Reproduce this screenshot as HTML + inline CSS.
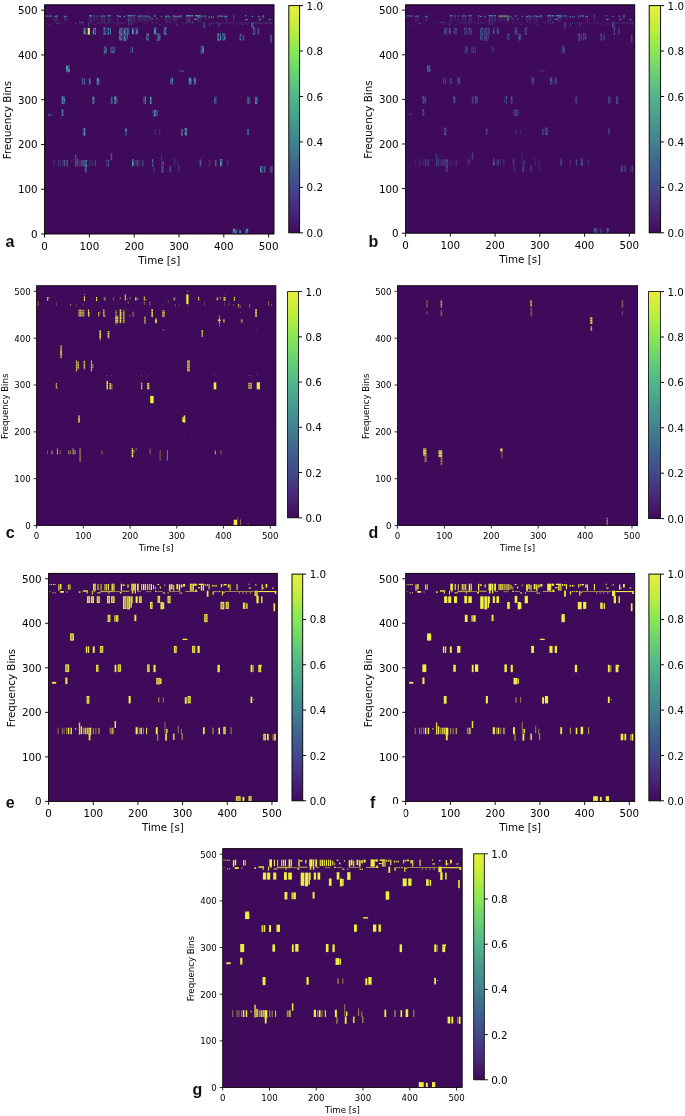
<!DOCTYPE html>
<html lang="en"><head><meta charset="utf-8"><title>Spectrogram panels</title>
<style>
html,body{margin:0;padding:0;background:#fff}
svg{display:block}
.p text{font-family:"DejaVu Sans","Liberation Sans",sans-serif;fill:#000}
.lab{font-family:"Liberation Sans","DejaVu Sans",sans-serif;font-weight:bold;font-size:16px;fill:#111}
</style></head><body>
<svg width="685" height="1116" viewBox="0 0 685 1116">
<defs>
<pattern id="sta" width="4.4" height="6" patternUnits="userSpaceOnUse"><rect width="1.5" height="6" fill="#4170a4"/><rect y="0.4" width="1.5" height="3" fill="#4cb4a8"/><rect x="2.2" width="1.4" height="6" fill="#3f5c98" opacity=".85"/><rect x="2.2" y="3" width="1.4" height="2.6" fill="#48a4a2"/></pattern>
<pattern id="stb" width="4.4" height="6" patternUnits="userSpaceOnUse"><rect width="1.4" height="6" fill="#43559a"/><rect y="0.6" width="1.4" height="2.4" fill="#4a86a4"/><rect x="2.2" width="1.3" height="6" fill="#434e90" opacity=".8"/><rect x="2.2" y="3.4" width="1.3" height="2.2" fill="#487a9c"/></pattern>
<pattern id="stc" width="8" height="2.6" patternUnits="userSpaceOnUse"><rect width="8" height="2.25" fill="#ecf03e"/></pattern>
<linearGradient id="vir" x1="0" y1="1" x2="0" y2="0"><stop offset="0%" stop-color="#400a5a"/><stop offset="10%" stop-color="#48287a"/><stop offset="20%" stop-color="#42488a"/><stop offset="30%" stop-color="#3e648e"/><stop offset="40%" stop-color="#42828e"/><stop offset="50%" stop-color="#469c8e"/><stop offset="60%" stop-color="#52b68a"/><stop offset="70%" stop-color="#68d074"/><stop offset="80%" stop-color="#88e854"/><stop offset="90%" stop-color="#beee3c"/><stop offset="100%" stop-color="#e8ee3c"/></linearGradient></defs>
<rect width="685" height="1116" fill="#fff"/>
<g class="p" font-size="10.3">
<rect x="44.6" y="4.8" width="229.4" height="229.2" fill="#400a5b"/>
<g fill="url(#sta)">
<rect x="45.4" y="15.5" width="1" height="1.2" opacity="0.80" fill="#52bca8"/>
<rect x="45.4" y="15.5" width="0.9" height="1.1" opacity="0.31"/>
<rect x="47.3" y="15.5" width="1" height="1.2" opacity="0.80" fill="#52bca8"/>
<rect x="47.3" y="15.5" width="0.9" height="1.1" opacity="0.31"/>
<rect x="49.1" y="15.5" width="1" height="1.2" opacity="0.80" fill="#52bca8"/>
<rect x="49.1" y="15.5" width="0.9" height="1.1" opacity="0.31"/>
<rect x="50.5" y="15.5" width="1.1" height="1.2" opacity="0.80" fill="#52bca8"/>
<rect x="50.5" y="15.5" width="1.1" height="1.1" opacity="0.31"/>
<rect x="54.3" y="15.8" width="1.2" height="1.2" opacity="0.80" fill="#52bca8"/>
<rect x="54.3" y="15.8" width="1.2" height="6.3" opacity="0.28" fill="#4690a6"/>
<rect x="56.1" y="15.5" width="1.4" height="1.2" opacity="0.80" fill="#52bca8"/>
<rect x="56.1" y="15.5" width="1.4" height="5.3" opacity="0.28" fill="#4690a6"/>
<rect x="64" y="15.8" width="1" height="1.2" opacity="0.80" fill="#52bca8"/>
<rect x="64" y="15.8" width="1" height="5.3" opacity="0.28" fill="#4690a6"/>
<rect x="65.6" y="15.8" width="1.1" height="1.2" opacity="0.80" fill="#52bca8"/>
<rect x="65.6" y="15.8" width="1.1" height="5.3" opacity="0.28" fill="#4690a6"/>
<rect x="89.3" y="15.1" width="2.6" height="1.2" opacity="0.80" fill="#52bca8"/>
<rect x="89.3" y="15.1" width="2.6" height="7" opacity="0.45"/>
<rect x="93.6" y="15.5" width="1.1" height="1.2" opacity="0.80" fill="#52bca8"/>
<rect x="93.6" y="15.5" width="1.1" height="6.2" opacity="0.28" fill="#4690a6"/>
<rect x="96.8" y="15.5" width="1" height="1.2" opacity="0.80" fill="#52bca8"/>
<rect x="96.8" y="15.5" width="1" height="6.2" opacity="0.28" fill="#4690a6"/>
<rect x="100.7" y="15.5" width="1.1" height="1.2" opacity="0.80" fill="#52bca8"/>
<rect x="100.7" y="15.5" width="1.1" height="6.2" opacity="0.28" fill="#4690a6"/>
<rect x="102.4" y="15.5" width="1.1" height="1.2" opacity="0.80" fill="#52bca8"/>
<rect x="102.4" y="15.5" width="1.1" height="6.2" opacity="0.28" fill="#4690a6"/>
<rect x="104.2" y="15.5" width="1.1" height="1.2" opacity="0.80" fill="#52bca8"/>
<rect x="104.2" y="15.5" width="1.1" height="6.2" opacity="0.28" fill="#4690a6"/>
<rect x="107.7" y="15.1" width="1.4" height="1.2" opacity="0.80" fill="#52bca8"/>
<rect x="107.7" y="15.1" width="1.4" height="7" opacity="0.28" fill="#4690a6"/>
<rect x="109.6" y="15.1" width="1.2" height="1.2" opacity="0.80" fill="#52bca8"/>
<rect x="109.6" y="15.1" width="1.2" height="7" opacity="0.28" fill="#4690a6"/>
<rect x="117" y="15.1" width="1.2" height="1.2" opacity="0.80" fill="#52bca8"/>
<rect x="117" y="15.1" width="1.2" height="7" opacity="0.28" fill="#4690a6"/>
<rect x="118.7" y="15.8" width="2.3" height="1.2" opacity="0.80" fill="#52bca8"/>
<rect x="118.7" y="15.8" width="2.3" height="1.4" opacity="0.31"/>
<rect x="123.7" y="15.8" width="1.2" height="1.2" opacity="0.80" fill="#52bca8"/>
<rect x="123.7" y="15.8" width="1.2" height="3.2" opacity="0.28" fill="#4690a6"/>
<rect x="127.5" y="15.1" width="2.6" height="1.2" opacity="0.80" fill="#52bca8"/>
<rect x="127.5" y="15.1" width="2.6" height="7" opacity="0.45"/>
<rect x="130.5" y="15.1" width="1.8" height="1.2" opacity="0.80" fill="#52bca8"/>
<rect x="130.5" y="15.1" width="1.8" height="7" opacity="0.28" fill="#4690a6"/>
<rect x="133.3" y="15.1" width="1.8" height="1.2" opacity="0.80" fill="#52bca8"/>
<rect x="133.3" y="15.1" width="1.8" height="7" opacity="0.28" fill="#4690a6"/>
<rect x="137.5" y="15.5" width="1.1" height="1.2" opacity="0.80" fill="#52bca8"/>
<rect x="137.5" y="15.5" width="1.1" height="6.2" opacity="0.28" fill="#4690a6"/>
<rect x="139.3" y="15.5" width="1.4" height="1.2" opacity="0.80" fill="#52bca8"/>
<rect x="139.3" y="15.5" width="1.4" height="6.2" opacity="0.28" fill="#4690a6"/>
<rect x="141.4" y="15.5" width="1.1" height="1.2" opacity="0.80" fill="#52bca8"/>
<rect x="141.4" y="15.5" width="1.1" height="6.2" opacity="0.28" fill="#4690a6"/>
<rect x="143.5" y="15.5" width="1.1" height="1.2" opacity="0.80" fill="#52bca8"/>
<rect x="143.5" y="15.5" width="1.1" height="6.2" opacity="0.28" fill="#4690a6"/>
<rect x="145.6" y="15.5" width="1.1" height="1.2" opacity="0.80" fill="#52bca8"/>
<rect x="145.6" y="15.5" width="1.1" height="6.2" opacity="0.28" fill="#4690a6"/>
<rect x="147.3" y="15.5" width="1.1" height="1.2" opacity="0.80" fill="#52bca8"/>
<rect x="147.3" y="15.5" width="1.1" height="6.2" opacity="0.28" fill="#4690a6"/>
<rect x="149.4" y="16.4" width="1.1" height="1.2" opacity="0.80" fill="#52bca8"/>
<rect x="149.4" y="16.4" width="1.1" height="4.4" opacity="0.28" fill="#4690a6"/>
<rect x="151.6" y="18.1" width="1" height="1.2" opacity="0.80" fill="#52bca8"/>
<rect x="151.6" y="18.1" width="1" height="2.6" opacity="0.28" fill="#4690a6"/>
<rect x="153.8" y="15.5" width="1.8" height="1.2" opacity="0.80" fill="#52bca8"/>
<rect x="153.8" y="15.5" width="1.8" height="1.1" opacity="0.31"/>
<rect x="156.1" y="18.1" width="1.2" height="1.2" opacity="0.80" fill="#52bca8"/>
<rect x="156.1" y="18.1" width="1.2" height="1.8" opacity="0.31"/>
<rect x="45.4" y="22.9" width="0.9" height="0.7" opacity="0.52"/>
<rect x="48.5" y="23.9" width="1.2" height="0.9" opacity="0.52"/>
<rect x="50.8" y="23.9" width="1.1" height="0.9" opacity="0.52"/>
<rect x="56.1" y="22.5" width="3.9" height="1.8" opacity="0.52"/>
<rect x="62.6" y="22.9" width="0.9" height="1.1" opacity="0.52"/>
<rect x="74.9" y="22.9" width="1.8" height="1.4" opacity="0.52"/>
<rect x="78.9" y="21.8" width="5.3" height="1.4" opacity="0.52"/>
<rect x="82.8" y="23.2" width="1.1" height="1.9" opacity="0.52"/>
<rect x="88" y="22.2" width="1" height="3.9" opacity="0.46" fill="#4690a6"/>
<rect x="89.8" y="22.9" width="1.8" height="0.7" opacity="0.52"/>
<rect x="93.3" y="23.9" width="3.5" height="0.9" opacity="0.52"/>
<rect x="96.5" y="22.2" width="13.5" height="1.4" opacity="0.37"/>
<rect x="104.7" y="23.6" width="0.9" height="1.6" opacity="0.52"/>
<rect x="110" y="22.5" width="6.1" height="0.7" opacity="0.37"/>
<rect x="116.1" y="23.2" width="1.8" height="1.8" opacity="0.52"/>
<rect x="117.9" y="22.2" width="7.9" height="1.1" opacity="0.37"/>
<rect x="128" y="22.2" width="1.4" height="2.8" opacity="0.46" fill="#4690a6"/>
<rect x="131" y="22.2" width="1.2" height="2.8" opacity="0.46" fill="#4690a6"/>
<rect x="133.7" y="22.5" width="3.5" height="0.7" opacity="0.37"/>
<rect x="142.4" y="22.9" width="5.3" height="0.7" opacity="0.37"/>
<rect x="151.2" y="22.2" width="1.8" height="1.1" opacity="0.52"/>
<rect x="153.8" y="22.5" width="5.3" height="0.7" opacity="0.37"/>
<rect x="83.1" y="27.8" width="3.2" height="6.7" opacity="1.00"/>
<rect x="87.1" y="27.8" width="3" height="6.7" opacity="1.00"/>
<rect x="92.9" y="27.8" width="3" height="6.7" opacity="1.00"/>
<rect x="103.3" y="27.4" width="2.8" height="7.4" opacity="1.00"/>
<rect x="107.3" y="27.8" width="3.5" height="6.7" opacity="1.00"/>
<rect x="119.3" y="27.8" width="3.5" height="12.7" opacity="1.00"/>
<rect x="123.5" y="27.8" width="2.8" height="13.2" opacity="1.00"/>
<rect x="126.6" y="27.8" width="1.4" height="11.4" opacity="0.62" fill="#4690a6"/>
<rect x="128" y="27.8" width="1" height="7" opacity="0.62" fill="#4690a6"/>
<rect x="131.9" y="27.8" width="2.1" height="6.7" opacity="1.00"/>
<rect x="135.4" y="27.8" width="2.6" height="6.7" opacity="1.00"/>
<rect x="153.8" y="27.4" width="2.6" height="7" opacity="1.00"/>
<rect x="146.3" y="33.4" width="2.6" height="7" opacity="1.00"/>
<rect x="156.8" y="33.4" width="2.3" height="7.6" opacity="1.00"/>
<rect x="103.8" y="46.5" width="2.8" height="7.2" opacity="1.00"/>
<rect x="110.5" y="46.8" width="1.2" height="6.5" opacity="0.62" fill="#4690a6"/>
<rect x="112.2" y="46.8" width="2.5" height="6.5" opacity="1.00"/>
<rect x="130.7" y="46.5" width="1.9" height="6.3" opacity="1.00"/>
<rect x="66.1" y="65.1" width="3.9" height="6.7" opacity="1.00"/>
<rect x="160.9" y="15.8" width="1" height="1.2" opacity="0.80" fill="#52bca8"/>
<rect x="160.9" y="15.8" width="0.7" height="1.8" opacity="0.31"/>
<rect x="165.2" y="15.8" width="1.8" height="1.2" opacity="0.80" fill="#52bca8"/>
<rect x="165.2" y="15.8" width="1.8" height="6.3" opacity="0.28" fill="#4690a6"/>
<rect x="167.5" y="15.5" width="1.4" height="1.2" opacity="0.80" fill="#52bca8"/>
<rect x="167.5" y="15.5" width="1.4" height="5.3" opacity="0.28" fill="#4690a6"/>
<rect x="169.6" y="16.4" width="1.1" height="1.2" opacity="0.80" fill="#52bca8"/>
<rect x="169.6" y="16.4" width="1.1" height="5.8" opacity="0.28" fill="#4690a6"/>
<rect x="172.8" y="15.5" width="1.8" height="1.2" opacity="0.80" fill="#52bca8"/>
<rect x="172.8" y="15.5" width="1.8" height="5.3" opacity="0.28" fill="#4690a6"/>
<rect x="175.2" y="15.8" width="1.4" height="1.2" opacity="0.80" fill="#52bca8"/>
<rect x="175.2" y="15.8" width="1.4" height="6.3" opacity="0.28" fill="#4690a6"/>
<rect x="177.4" y="15.8" width="1.4" height="1.2" opacity="0.80" fill="#52bca8"/>
<rect x="177.4" y="15.8" width="1.4" height="3.2" opacity="0.28" fill="#4690a6"/>
<rect x="179.5" y="15.5" width="2.1" height="1.2" opacity="0.80" fill="#52bca8"/>
<rect x="179.5" y="15.5" width="2.1" height="2.6" opacity="0.45"/>
<rect x="186.3" y="15.1" width="4" height="1.2" opacity="0.80" fill="#52bca8"/>
<rect x="186.3" y="15.1" width="4" height="7" opacity="0.45"/>
<rect x="190.7" y="15.1" width="2.6" height="1.2" opacity="0.80" fill="#52bca8"/>
<rect x="190.7" y="15.1" width="2.6" height="2.1" opacity="0.31"/>
<rect x="194.2" y="18.6" width="2.6" height="1.2" opacity="0.80" fill="#52bca8"/>
<rect x="194.2" y="18.6" width="2.6" height="1.1" opacity="0.31"/>
<rect x="195.1" y="15.1" width="5.3" height="1.2" opacity="0.80" fill="#52bca8"/>
<rect x="195.1" y="15.1" width="5.3" height="1.4" opacity="0.31"/>
<rect x="197.4" y="16.5" width="1.4" height="1.2" opacity="0.80" fill="#52bca8"/>
<rect x="197.4" y="16.5" width="1.4" height="5.6" opacity="0.28" fill="#4690a6"/>
<rect x="199.5" y="16.5" width="1.1" height="1.2" opacity="0.80" fill="#52bca8"/>
<rect x="199.5" y="16.5" width="1.1" height="5.6" opacity="0.28" fill="#4690a6"/>
<rect x="201.2" y="15.5" width="1.1" height="1.2" opacity="0.80" fill="#52bca8"/>
<rect x="201.2" y="15.5" width="1.1" height="2.1" opacity="0.31"/>
<rect x="203.3" y="15.5" width="1.1" height="1.2" opacity="0.80" fill="#52bca8"/>
<rect x="203.3" y="15.5" width="1.1" height="2.1" opacity="0.31"/>
<rect x="205.1" y="15.5" width="1.1" height="1.2" opacity="0.80" fill="#52bca8"/>
<rect x="205.1" y="15.5" width="1.1" height="5.3" opacity="0.28" fill="#4690a6"/>
<rect x="208.6" y="16.4" width="1.4" height="1.2" opacity="0.80" fill="#52bca8"/>
<rect x="208.6" y="16.4" width="1.4" height="1.8" opacity="0.31"/>
<rect x="211" y="16.4" width="1.1" height="1.2" opacity="0.80" fill="#52bca8"/>
<rect x="211" y="16.4" width="1.1" height="1.8" opacity="0.31"/>
<rect x="212.8" y="16.4" width="1" height="1.2" opacity="0.80" fill="#52bca8"/>
<rect x="212.8" y="16.4" width="0.7" height="1.8" opacity="0.31"/>
<rect x="217.4" y="15.5" width="1.1" height="1.2" opacity="0.80" fill="#52bca8"/>
<rect x="217.4" y="15.5" width="1.1" height="3.5" opacity="0.28" fill="#4690a6"/>
<rect x="219.1" y="15.5" width="1" height="1.2" opacity="0.80" fill="#52bca8"/>
<rect x="219.1" y="15.5" width="0.7" height="2.1" opacity="0.31"/>
<rect x="220.5" y="15.5" width="2.6" height="1.2" opacity="0.80" fill="#52bca8"/>
<rect x="220.5" y="15.5" width="2.6" height="1.4" opacity="0.31"/>
<rect x="224.4" y="15.8" width="1.4" height="1.2" opacity="0.80" fill="#52bca8"/>
<rect x="224.4" y="15.8" width="1.4" height="3.2" opacity="0.28" fill="#4690a6"/>
<rect x="226.1" y="15.8" width="1.1" height="1.2" opacity="0.80" fill="#52bca8"/>
<rect x="226.1" y="15.8" width="1.1" height="6.3" opacity="0.28" fill="#4690a6"/>
<rect x="233.2" y="15.5" width="1.1" height="1.2" opacity="0.80" fill="#52bca8"/>
<rect x="233.2" y="15.5" width="1.1" height="6.2" opacity="0.28" fill="#4690a6"/>
<rect x="245.1" y="15.1" width="1.1" height="1.2" opacity="0.80" fill="#52bca8"/>
<rect x="245.1" y="15.1" width="1.1" height="1.1" opacity="0.31"/>
<rect x="245.4" y="19" width="2.3" height="1.2" opacity="0.80" fill="#52bca8"/>
<rect x="245.4" y="19" width="2.3" height="1.1" opacity="0.31"/>
<rect x="251.8" y="15.8" width="1.4" height="1.2" opacity="0.80" fill="#52bca8"/>
<rect x="251.8" y="15.8" width="1.4" height="1.1" opacity="0.31"/>
<rect x="258.3" y="15.8" width="1.2" height="1.2" opacity="0.80" fill="#52bca8"/>
<rect x="258.3" y="15.8" width="1.2" height="5.3" opacity="0.28" fill="#4690a6"/>
<rect x="259.5" y="19" width="1.4" height="1.2" opacity="0.80" fill="#52bca8"/>
<rect x="259.5" y="19" width="1.4" height="1.1" opacity="0.31"/>
<rect x="262.3" y="15.5" width="1.8" height="1.2" opacity="0.80" fill="#52bca8"/>
<rect x="262.3" y="15.5" width="1.8" height="3.5" opacity="0.28" fill="#4690a6"/>
<rect x="268.8" y="19" width="1.8" height="1.2" opacity="0.80" fill="#52bca8"/>
<rect x="268.8" y="19" width="1.8" height="1.1" opacity="0.31"/>
<rect x="159.1" y="23.9" width="2.1" height="1.1" opacity="0.52"/>
<rect x="164" y="23.9" width="1.1" height="1.1" opacity="0.52"/>
<rect x="165.2" y="22.5" width="11.4" height="0.7" opacity="0.37"/>
<rect x="175.8" y="23.9" width="1.1" height="1.4" opacity="0.52"/>
<rect x="177.7" y="23.9" width="1.1" height="1.4" opacity="0.52"/>
<rect x="181.9" y="22.5" width="12.3" height="0.9" opacity="0.37"/>
<rect x="191.6" y="21.1" width="1.8" height="2.1" opacity="0.52"/>
<rect x="203.3" y="22.2" width="1.8" height="6" opacity="0.46" fill="#4690a6"/>
<rect x="209.1" y="22.9" width="1.2" height="3.2" opacity="0.46" fill="#4690a6"/>
<rect x="210.9" y="22.5" width="1.2" height="1.1" opacity="0.52"/>
<rect x="213.1" y="22.5" width="1.1" height="1.1" opacity="0.52"/>
<rect x="215.3" y="22.5" width="1.8" height="1.1" opacity="0.52"/>
<rect x="218.4" y="22.5" width="1.1" height="4.6" opacity="0.46" fill="#4690a6"/>
<rect x="219.6" y="23.2" width="1.8" height="1.1" opacity="0.52"/>
<rect x="221.4" y="22.5" width="29" height="0.9" opacity="0.31"/>
<rect x="235.4" y="23.9" width="0.9" height="1.1" opacity="0.52"/>
<rect x="238.9" y="23.9" width="0.9" height="1.1" opacity="0.52"/>
<rect x="242.5" y="23.9" width="0.9" height="1.1" opacity="0.52"/>
<rect x="246.5" y="23.9" width="1.1" height="1.1" opacity="0.52"/>
<rect x="251.2" y="22.2" width="3.2" height="5.3" opacity="0.75"/>
<rect x="254.7" y="22.5" width="18.4" height="1.1" opacity="0.52"/>
<rect x="271.4" y="23.6" width="1.8" height="1.8" opacity="0.52"/>
<rect x="163.8" y="27.4" width="3.2" height="7.4" opacity="1.00"/>
<rect x="253" y="27.4" width="2.3" height="7.4" opacity="1.00"/>
<rect x="257.7" y="27.8" width="1.4" height="6.7" opacity="0.62" fill="#4690a6"/>
<rect x="159.1" y="34" width="1.4" height="6.5" opacity="0.62" fill="#4690a6"/>
<rect x="217" y="33.4" width="3.9" height="7.4" opacity="1.00"/>
<rect x="222.3" y="33.4" width="3.2" height="7" opacity="1.00"/>
<rect x="239.5" y="34.1" width="2.5" height="6.3" opacity="1.00"/>
<rect x="242.8" y="34.8" width="1.4" height="5.6" opacity="0.62" fill="#4690a6"/>
<rect x="270.2" y="34.8" width="1.6" height="7.9" opacity="0.62" fill="#4690a6"/>
<rect x="200.7" y="45.8" width="3.3" height="8.1" opacity="1.00"/>
<rect x="179.3" y="70.6" width="4.4" height="1.2" opacity="0.70"/>
<rect x="66.1" y="66.7" width="3.9" height="5.6" opacity="1.00"/>
<rect x="81.9" y="78.2" width="1.2" height="6.5" opacity="0.62" fill="#4690a6"/>
<rect x="83.8" y="78.2" width="1.4" height="6.5" opacity="0.62" fill="#4690a6"/>
<rect x="88.9" y="78.2" width="1.9" height="6.5" opacity="1.00"/>
<rect x="96.1" y="77.8" width="3.3" height="6.9" opacity="1.00"/>
<rect x="61.4" y="96.3" width="3.9" height="7.7" opacity="1.00"/>
<rect x="92.2" y="96.7" width="2.5" height="7" opacity="1.00"/>
<rect x="110.8" y="96.7" width="1.8" height="7.4" opacity="0.62" fill="#4690a6"/>
<rect x="114" y="96.3" width="3.2" height="7.4" opacity="1.00"/>
<rect x="143.5" y="96.3" width="2.5" height="7.7" opacity="1.00"/>
<rect x="149.8" y="96.7" width="2.1" height="7.4" opacity="1.00"/>
<rect x="61.4" y="109.5" width="2.1" height="6.5" opacity="1.00"/>
<rect x="48" y="113.9" width="4.2" height="1.8" opacity="0.70"/>
<rect x="152.6" y="109.9" width="3.5" height="6.5" opacity="1.00"/>
<rect x="156.5" y="110.4" width="1.4" height="5.6" opacity="0.62" fill="#4690a6"/>
<rect x="82.8" y="128" width="2.8" height="7.7" opacity="1.00"/>
<rect x="124.9" y="128" width="2.1" height="7.4" opacity="1.00"/>
<rect x="154.4" y="129.2" width="1.4" height="5.3" opacity="0.31" fill="#4690a6"/>
<rect x="178.8" y="70.6" width="5.3" height="1.1" opacity="0.39"/>
<rect x="170.3" y="77.6" width="2.8" height="7" opacity="1.00"/>
<rect x="188.6" y="77.6" width="3.2" height="7" opacity="1.00"/>
<rect x="193.8" y="77.6" width="2.3" height="7" opacity="1.00"/>
<rect x="214" y="96.7" width="2.3" height="7.4" opacity="1.00"/>
<rect x="247.2" y="96.7" width="1.8" height="7.4" opacity="0.62" fill="#4690a6"/>
<rect x="248.9" y="97" width="1.8" height="6.7" opacity="0.31" fill="#4690a6"/>
<rect x="254.9" y="96.7" width="3.5" height="2.1" opacity="0.70"/>
<rect x="254.9" y="98.8" width="2.8" height="5.3" opacity="1.00"/>
<rect x="159.1" y="129.2" width="1.1" height="5.3" opacity="0.31" fill="#4690a6"/>
<rect x="181.2" y="129.2" width="1.9" height="6.5" opacity="1.00"/>
<rect x="184" y="128" width="3.2" height="7.4" opacity="1.00"/>
<rect x="247.2" y="128.7" width="1.8" height="6.3" opacity="0.62" fill="#4690a6"/>
<rect x="250" y="131.2" width="1.1" height="0.7" opacity="0.70"/>
<rect x="53.6" y="159.9" width="1.1" height="6.5" opacity="0.28" fill="#4690a6"/>
<rect x="57.8" y="159.9" width="1.1" height="6.5" opacity="0.28" fill="#4690a6"/>
<rect x="59.6" y="159.9" width="1.1" height="6.5" opacity="0.28" fill="#4690a6"/>
<rect x="62.1" y="159.9" width="1.1" height="6.5" opacity="0.28" fill="#4690a6"/>
<rect x="63.8" y="159.9" width="1.4" height="6.5" opacity="0.62" fill="#4690a6"/>
<rect x="66.6" y="159.9" width="1.4" height="6.5" opacity="0.62" fill="#4690a6"/>
<rect x="71.4" y="160.2" width="0.9" height="1.8" opacity="0.70"/>
<rect x="74.9" y="154.6" width="1.4" height="12.3" opacity="0.53" fill="#4690a6"/>
<rect x="76.8" y="158.5" width="1.4" height="7.9" opacity="0.62" fill="#4690a6"/>
<rect x="78.9" y="159.9" width="1.4" height="6.5" opacity="0.31" fill="#4690a6"/>
<rect x="80.7" y="159.9" width="1.8" height="6.5" opacity="0.50" fill="#4690a6"/>
<rect x="82.8" y="159.9" width="1.4" height="6.5" opacity="0.50" fill="#4690a6"/>
<rect x="84.5" y="159.9" width="2.8" height="7.4" opacity="1.00"/>
<rect x="84.9" y="167.3" width="1.8" height="5.3" opacity="0.62" fill="#4690a6"/>
<rect x="88.9" y="160.2" width="1.2" height="6.2" opacity="0.31" fill="#4690a6"/>
<rect x="91.5" y="160.2" width="1.1" height="6.2" opacity="0.31" fill="#4690a6"/>
<rect x="94.7" y="160.2" width="1.1" height="6.2" opacity="0.50" fill="#4690a6"/>
<rect x="105.9" y="159.9" width="1.4" height="6.5" opacity="0.31" fill="#4690a6"/>
<rect x="107.7" y="159.9" width="2.1" height="6.5" opacity="0.70"/>
<rect x="110.8" y="153.2" width="1.4" height="7" opacity="0.62" fill="#4690a6"/>
<rect x="131.9" y="159.4" width="2.1" height="7" opacity="1.00"/>
<rect x="135.1" y="159.9" width="1.4" height="6.5" opacity="0.31" fill="#4690a6"/>
<rect x="136.8" y="159.9" width="1.4" height="6.5" opacity="0.62" fill="#4690a6"/>
<rect x="139.3" y="159.9" width="1.1" height="6.5" opacity="0.31" fill="#4690a6"/>
<rect x="142.4" y="159.9" width="1.1" height="6.5" opacity="0.62" fill="#4690a6"/>
<rect x="152.1" y="159.4" width="1.9" height="7" opacity="1.00"/>
<rect x="153.3" y="166.4" width="1.4" height="6.5" opacity="0.31" fill="#4690a6"/>
<rect x="160.9" y="154.1" width="1.1" height="11.4" opacity="0.28" fill="#4690a6"/>
<rect x="162.6" y="161.1" width="1.4" height="4.4" opacity="0.62" fill="#4690a6"/>
<rect x="161.6" y="165.9" width="1.8" height="7" opacity="0.62" fill="#4690a6"/>
<rect x="169.3" y="165.9" width="1.8" height="6.3" opacity="0.50" fill="#4690a6"/>
<rect x="174.2" y="158.1" width="1.1" height="7.4" opacity="0.31" fill="#4690a6"/>
<rect x="177.4" y="161.1" width="1.1" height="5.3" opacity="0.31" fill="#4690a6"/>
<rect x="178.1" y="165.9" width="1.4" height="6.3" opacity="0.31" fill="#4690a6"/>
<rect x="199.5" y="159.4" width="1.8" height="7" opacity="0.62" fill="#4690a6"/>
<rect x="208.9" y="159.9" width="1.2" height="6.5" opacity="0.37" fill="#4690a6"/>
<rect x="214.9" y="159.9" width="1.6" height="6.5" opacity="0.62" fill="#4690a6"/>
<rect x="219.8" y="159" width="2.5" height="7.4" opacity="1.00"/>
<rect x="227.2" y="159.4" width="1.1" height="7" opacity="0.37" fill="#4690a6"/>
<rect x="260" y="166.1" width="2.6" height="6.5" opacity="1.00"/>
<rect x="263.7" y="166.1" width="1.8" height="6.5" opacity="0.62" fill="#4690a6"/>
<rect x="269.3" y="166.4" width="1.1" height="6.2" opacity="0.37" fill="#4690a6"/>
<rect x="270.9" y="166.1" width="1.6" height="6.9" opacity="0.62" fill="#4690a6"/>
<rect x="232.5" y="228.8" width="4.7" height="5.5" opacity="1.00"/>
<rect x="239.1" y="229.5" width="1.9" height="4.8" opacity="1.00"/>
<rect x="245.1" y="228.8" width="3.2" height="5.5" opacity="1.00"/>
</g>
<rect x="87.8" y="28" width="2" height="6.6" fill="#e4ee3e"/>
<rect x="44.6" y="4.8" width="229.4" height="229.2" fill="none" stroke="#000" stroke-width="0.95"/>
<path d="M44.6 234v3.5M44.6 234h-3.5" stroke="#000" stroke-width="0.95"/>
<text x="44.6" y="249.6" text-anchor="middle">0</text>
<text x="37.6" y="238" text-anchor="end">0</text>
<path d="M89.4 234v3.5M44.6 189.23h-3.5" stroke="#000" stroke-width="0.95"/>
<text x="89.4" y="249.6" text-anchor="middle">100</text>
<text x="37.6" y="193.23" text-anchor="end">100</text>
<path d="M134.21 234v3.5M44.6 144.47h-3.5" stroke="#000" stroke-width="0.95"/>
<text x="134.21" y="249.6" text-anchor="middle">200</text>
<text x="37.6" y="148.47" text-anchor="end">200</text>
<path d="M179.01 234v3.5M44.6 99.7h-3.5" stroke="#000" stroke-width="0.95"/>
<text x="179.01" y="249.6" text-anchor="middle">300</text>
<text x="37.6" y="103.7" text-anchor="end">300</text>
<path d="M223.82 234v3.5M44.6 54.94h-3.5" stroke="#000" stroke-width="0.95"/>
<text x="223.82" y="249.6" text-anchor="middle">400</text>
<text x="37.6" y="58.94" text-anchor="end">400</text>
<path d="M268.62 234v3.5M44.6 10.17h-3.5" stroke="#000" stroke-width="0.95"/>
<text x="268.62" y="249.6" text-anchor="middle">500</text>
<text x="37.6" y="14.17" text-anchor="end">500</text>
<text x="159.3" y="264" text-anchor="middle">Time [s]</text>
<text transform="translate(11.2 120) rotate(-90)" text-anchor="middle">Frequency Bins</text>
<rect x="288.8" y="5.6" width="10.8" height="227.2" fill="url(#vir)" stroke="#000" stroke-width="0.95"/>
<path d="M299.6 232.8h3.5" stroke="#000" stroke-width="0.95"/>
<text x="306.6" y="236.85" font-size="10.3">0.0</text>
<path d="M299.6 187.36h3.5" stroke="#000" stroke-width="0.95"/>
<text x="306.6" y="191.41" font-size="10.3">0.2</text>
<path d="M299.6 141.92h3.5" stroke="#000" stroke-width="0.95"/>
<text x="306.6" y="145.97" font-size="10.3">0.4</text>
<path d="M299.6 96.48h3.5" stroke="#000" stroke-width="0.95"/>
<text x="306.6" y="100.53" font-size="10.3">0.6</text>
<path d="M299.6 51.04h3.5" stroke="#000" stroke-width="0.95"/>
<text x="306.6" y="55.09" font-size="10.3">0.8</text>
<path d="M299.6 5.6h3.5" stroke="#000" stroke-width="0.95"/>
<text x="306.6" y="9.65" font-size="10.3">1.0</text>
</g>
<text class="lab" x="5.4" y="247.3">a</text>
<g class="p" font-size="10.3">
<rect x="405.6" y="4.8" width="229.1" height="228.4" fill="#400a5b"/>
<g fill="url(#stb)">
<rect x="406.4" y="15.4" width="1" height="1.2" opacity="0.80" fill="#4eaea6"/>
<rect x="406.4" y="15.4" width="0.9" height="1.1" opacity="0.34"/>
<rect x="408.3" y="15.4" width="1" height="1.2" opacity="0.80" fill="#4eaea6"/>
<rect x="408.3" y="15.4" width="0.9" height="1.1" opacity="0.34"/>
<rect x="410.1" y="15.4" width="1" height="1.2" opacity="0.80" fill="#4eaea6"/>
<rect x="410.1" y="15.4" width="0.9" height="1.1" opacity="0.34"/>
<rect x="411.5" y="15.4" width="1.1" height="1.2" opacity="0.80" fill="#4eaea6"/>
<rect x="411.5" y="15.4" width="1.1" height="1.1" opacity="0.34"/>
<rect x="415.3" y="15.8" width="1.2" height="1.2" opacity="0.80" fill="#4eaea6"/>
<rect x="415.3" y="15.8" width="1.2" height="6.3" opacity="0.30" fill="#48709e"/>
<rect x="417.1" y="15.4" width="1.4" height="1.2" opacity="0.80" fill="#4eaea6"/>
<rect x="417.1" y="15.4" width="1.4" height="5.3" opacity="0.30" fill="#48709e"/>
<rect x="425" y="15.8" width="1" height="1.2" opacity="0.80" fill="#4eaea6"/>
<rect x="425" y="15.8" width="1" height="5.3" opacity="0.30" fill="#48709e"/>
<rect x="426.5" y="15.8" width="1.1" height="1.2" opacity="0.80" fill="#4eaea6"/>
<rect x="426.5" y="15.8" width="1.1" height="5.3" opacity="0.30" fill="#48709e"/>
<rect x="450.2" y="15.1" width="2.6" height="1.2" opacity="0.80" fill="#4eaea6"/>
<rect x="450.2" y="15.1" width="2.6" height="7" opacity="0.48"/>
<rect x="454.6" y="15.4" width="1.1" height="1.2" opacity="0.80" fill="#4eaea6"/>
<rect x="454.6" y="15.4" width="1.1" height="6.1" opacity="0.30" fill="#48709e"/>
<rect x="457.7" y="15.4" width="1" height="1.2" opacity="0.80" fill="#4eaea6"/>
<rect x="457.7" y="15.4" width="1" height="6.1" opacity="0.30" fill="#48709e"/>
<rect x="461.6" y="15.4" width="1.1" height="1.2" opacity="0.80" fill="#4eaea6"/>
<rect x="461.6" y="15.4" width="1.1" height="6.1" opacity="0.30" fill="#48709e"/>
<rect x="463.3" y="15.4" width="1.1" height="1.2" opacity="0.80" fill="#4eaea6"/>
<rect x="463.3" y="15.4" width="1.1" height="6.1" opacity="0.30" fill="#48709e"/>
<rect x="465.1" y="15.4" width="1.1" height="1.2" opacity="0.80" fill="#4eaea6"/>
<rect x="465.1" y="15.4" width="1.1" height="6.1" opacity="0.30" fill="#48709e"/>
<rect x="468.6" y="15.1" width="1.4" height="1.2" opacity="0.80" fill="#4eaea6"/>
<rect x="468.6" y="15.1" width="1.4" height="7" opacity="0.30" fill="#48709e"/>
<rect x="470.5" y="15.1" width="1.2" height="1.2" opacity="0.80" fill="#4eaea6"/>
<rect x="470.5" y="15.1" width="1.2" height="7" opacity="0.30" fill="#48709e"/>
<rect x="477.9" y="15.1" width="1.2" height="1.2" opacity="0.80" fill="#4eaea6"/>
<rect x="477.9" y="15.1" width="1.2" height="7" opacity="0.30" fill="#48709e"/>
<rect x="479.6" y="15.8" width="2.3" height="1.2" opacity="0.80" fill="#4eaea6"/>
<rect x="479.6" y="15.8" width="2.3" height="1.4" opacity="0.34"/>
<rect x="484.5" y="15.8" width="1.2" height="1.2" opacity="0.80" fill="#4eaea6"/>
<rect x="484.5" y="15.8" width="1.2" height="3.2" opacity="0.30" fill="#48709e"/>
<rect x="488.4" y="15.1" width="2.6" height="1.2" opacity="0.80" fill="#4eaea6"/>
<rect x="488.4" y="15.1" width="2.6" height="7" opacity="0.48"/>
<rect x="491.4" y="15.1" width="1.8" height="1.2" opacity="0.80" fill="#4eaea6"/>
<rect x="491.4" y="15.1" width="1.8" height="7" opacity="0.30" fill="#48709e"/>
<rect x="494.2" y="15.1" width="1.8" height="1.2" opacity="0.80" fill="#4eaea6"/>
<rect x="494.2" y="15.1" width="1.8" height="7" opacity="0.30" fill="#48709e"/>
<rect x="498.4" y="15.4" width="1.1" height="1.2" opacity="0.80" fill="#4eaea6"/>
<rect x="498.4" y="15.4" width="1.1" height="6.1" opacity="0.30" fill="#48709e"/>
<rect x="500.1" y="15.4" width="1.4" height="1.2" opacity="0.80" fill="#4eaea6"/>
<rect x="500.1" y="15.4" width="1.4" height="6.1" opacity="0.30" fill="#48709e"/>
<rect x="502.2" y="15.4" width="1.1" height="1.2" opacity="0.80" fill="#4eaea6"/>
<rect x="502.2" y="15.4" width="1.1" height="6.1" opacity="0.30" fill="#48709e"/>
<rect x="504.4" y="15.4" width="1.1" height="1.2" opacity="0.80" fill="#4eaea6"/>
<rect x="504.4" y="15.4" width="1.1" height="6.1" opacity="0.30" fill="#48709e"/>
<rect x="506.5" y="15.4" width="1.1" height="1.2" opacity="0.80" fill="#4eaea6"/>
<rect x="506.5" y="15.4" width="1.1" height="6.1" opacity="0.30" fill="#48709e"/>
<rect x="508.2" y="15.4" width="1.1" height="1.2" opacity="0.80" fill="#4eaea6"/>
<rect x="508.2" y="15.4" width="1.1" height="6.1" opacity="0.30" fill="#48709e"/>
<rect x="510.3" y="16.3" width="1.1" height="1.2" opacity="0.80" fill="#4eaea6"/>
<rect x="510.3" y="16.3" width="1.1" height="4.4" opacity="0.30" fill="#48709e"/>
<rect x="512.4" y="18.1" width="1" height="1.2" opacity="0.80" fill="#4eaea6"/>
<rect x="512.4" y="18.1" width="1" height="2.6" opacity="0.30" fill="#48709e"/>
<rect x="514.7" y="15.4" width="1.8" height="1.2" opacity="0.80" fill="#4eaea6"/>
<rect x="514.7" y="15.4" width="1.8" height="1.1" opacity="0.34"/>
<rect x="517" y="18.1" width="1.2" height="1.2" opacity="0.80" fill="#4eaea6"/>
<rect x="517" y="18.1" width="1.2" height="1.8" opacity="0.34"/>
<rect x="406.4" y="22.8" width="0.9" height="0.7" opacity="0.57"/>
<rect x="409.5" y="23.9" width="1.2" height="0.9" opacity="0.57"/>
<rect x="411.8" y="23.9" width="1.1" height="0.9" opacity="0.57"/>
<rect x="417.1" y="22.5" width="3.9" height="1.8" opacity="0.57"/>
<rect x="423.6" y="22.8" width="0.9" height="1.1" opacity="0.57"/>
<rect x="435.8" y="22.8" width="1.8" height="1.4" opacity="0.57"/>
<rect x="439.9" y="21.8" width="5.3" height="1.4" opacity="0.57"/>
<rect x="443.7" y="23.2" width="1.1" height="1.9" opacity="0.57"/>
<rect x="449" y="22.1" width="1" height="3.9" opacity="0.50" fill="#48709e"/>
<rect x="450.7" y="22.8" width="1.8" height="0.7" opacity="0.57"/>
<rect x="454.2" y="23.9" width="3.5" height="0.9" opacity="0.57"/>
<rect x="457.4" y="22.1" width="13.5" height="1.4" opacity="0.40"/>
<rect x="465.6" y="23.5" width="0.9" height="1.6" opacity="0.57"/>
<rect x="470.9" y="22.5" width="6.1" height="0.7" opacity="0.40"/>
<rect x="477" y="23.2" width="1.8" height="1.8" opacity="0.57"/>
<rect x="478.8" y="22.1" width="7.9" height="1.1" opacity="0.40"/>
<rect x="488.9" y="22.1" width="1.4" height="2.8" opacity="0.50" fill="#48709e"/>
<rect x="491.9" y="22.1" width="1.2" height="2.8" opacity="0.50" fill="#48709e"/>
<rect x="494.5" y="22.5" width="3.5" height="0.7" opacity="0.40"/>
<rect x="503.3" y="22.8" width="5.3" height="0.7" opacity="0.40"/>
<rect x="512.1" y="22.1" width="1.8" height="1.1" opacity="0.57"/>
<rect x="514.7" y="22.5" width="5.3" height="0.7" opacity="0.40"/>
<rect x="444.1" y="27.7" width="3.2" height="6.7" opacity="0.85"/>
<rect x="448.1" y="27.7" width="3" height="6.7" opacity="0.85"/>
<rect x="453.9" y="27.7" width="3" height="6.7" opacity="0.85"/>
<rect x="464.2" y="27.4" width="2.8" height="7.4" opacity="0.85"/>
<rect x="468.2" y="27.7" width="3.5" height="6.7" opacity="0.85"/>
<rect x="480.2" y="27.7" width="3.5" height="12.6" opacity="0.85"/>
<rect x="484.4" y="27.7" width="2.8" height="13.2" opacity="0.85"/>
<rect x="487.5" y="27.7" width="1.4" height="11.4" opacity="0.53" fill="#48709e"/>
<rect x="488.9" y="27.7" width="1" height="7" opacity="0.53" fill="#48709e"/>
<rect x="492.8" y="27.7" width="2.1" height="6.7" opacity="0.85"/>
<rect x="496.3" y="27.7" width="2.6" height="6.7" opacity="0.85"/>
<rect x="514.7" y="27.4" width="2.6" height="7" opacity="0.85"/>
<rect x="507.2" y="33.3" width="2.6" height="7" opacity="0.85"/>
<rect x="517.7" y="33.3" width="2.3" height="7.5" opacity="0.85"/>
<rect x="464.7" y="46.3" width="2.8" height="7.2" opacity="0.85"/>
<rect x="471.4" y="46.7" width="1.2" height="6.5" opacity="0.53" fill="#48709e"/>
<rect x="473.2" y="46.7" width="2.5" height="6.5" opacity="0.85"/>
<rect x="491.6" y="46.3" width="1.9" height="6.3" opacity="0.85"/>
<rect x="427.1" y="64.9" width="3.9" height="6.7" opacity="0.85"/>
<rect x="521.7" y="15.8" width="1" height="1.2" opacity="0.80" fill="#4eaea6"/>
<rect x="521.7" y="15.8" width="0.7" height="1.8" opacity="0.34"/>
<rect x="526.1" y="15.8" width="1.8" height="1.2" opacity="0.80" fill="#4eaea6"/>
<rect x="526.1" y="15.8" width="1.8" height="6.3" opacity="0.30" fill="#48709e"/>
<rect x="528.4" y="15.4" width="1.4" height="1.2" opacity="0.80" fill="#4eaea6"/>
<rect x="528.4" y="15.4" width="1.4" height="5.3" opacity="0.30" fill="#48709e"/>
<rect x="530.5" y="16.3" width="1.1" height="1.2" opacity="0.80" fill="#4eaea6"/>
<rect x="530.5" y="16.3" width="1.1" height="5.8" opacity="0.30" fill="#48709e"/>
<rect x="533.6" y="15.4" width="1.8" height="1.2" opacity="0.80" fill="#4eaea6"/>
<rect x="533.6" y="15.4" width="1.8" height="5.3" opacity="0.30" fill="#48709e"/>
<rect x="536.1" y="15.8" width="1.4" height="1.2" opacity="0.80" fill="#4eaea6"/>
<rect x="536.1" y="15.8" width="1.4" height="6.3" opacity="0.30" fill="#48709e"/>
<rect x="538.2" y="15.8" width="1.4" height="1.2" opacity="0.80" fill="#4eaea6"/>
<rect x="538.2" y="15.8" width="1.4" height="3.2" opacity="0.30" fill="#48709e"/>
<rect x="540.3" y="15.4" width="2.1" height="1.2" opacity="0.80" fill="#4eaea6"/>
<rect x="540.3" y="15.4" width="2.1" height="2.6" opacity="0.48"/>
<rect x="547.1" y="15.1" width="4" height="1.2" opacity="0.80" fill="#4eaea6"/>
<rect x="547.1" y="15.1" width="4" height="7" opacity="0.48"/>
<rect x="551.5" y="15.1" width="2.6" height="1.2" opacity="0.80" fill="#4eaea6"/>
<rect x="551.5" y="15.1" width="2.6" height="2.1" opacity="0.34"/>
<rect x="555" y="18.6" width="2.6" height="1.2" opacity="0.80" fill="#4eaea6"/>
<rect x="555" y="18.6" width="2.6" height="1.1" opacity="0.34"/>
<rect x="555.9" y="15.1" width="5.3" height="1.2" opacity="0.80" fill="#4eaea6"/>
<rect x="555.9" y="15.1" width="5.3" height="1.4" opacity="0.34"/>
<rect x="558.2" y="16.5" width="1.4" height="1.2" opacity="0.80" fill="#4eaea6"/>
<rect x="558.2" y="16.5" width="1.4" height="5.6" opacity="0.30" fill="#48709e"/>
<rect x="560.3" y="16.5" width="1.1" height="1.2" opacity="0.80" fill="#4eaea6"/>
<rect x="560.3" y="16.5" width="1.1" height="5.6" opacity="0.30" fill="#48709e"/>
<rect x="562" y="15.4" width="1.1" height="1.2" opacity="0.80" fill="#4eaea6"/>
<rect x="562" y="15.4" width="1.1" height="2.1" opacity="0.34"/>
<rect x="564.1" y="15.4" width="1.1" height="1.2" opacity="0.80" fill="#4eaea6"/>
<rect x="564.1" y="15.4" width="1.1" height="2.1" opacity="0.34"/>
<rect x="565.9" y="15.4" width="1.1" height="1.2" opacity="0.80" fill="#4eaea6"/>
<rect x="565.9" y="15.4" width="1.1" height="5.3" opacity="0.30" fill="#48709e"/>
<rect x="569.4" y="16.3" width="1.4" height="1.2" opacity="0.80" fill="#4eaea6"/>
<rect x="569.4" y="16.3" width="1.4" height="1.8" opacity="0.34"/>
<rect x="571.8" y="16.3" width="1.1" height="1.2" opacity="0.80" fill="#4eaea6"/>
<rect x="571.8" y="16.3" width="1.1" height="1.8" opacity="0.34"/>
<rect x="573.6" y="16.3" width="1" height="1.2" opacity="0.80" fill="#4eaea6"/>
<rect x="573.6" y="16.3" width="0.7" height="1.8" opacity="0.34"/>
<rect x="578.1" y="15.4" width="1.1" height="1.2" opacity="0.80" fill="#4eaea6"/>
<rect x="578.1" y="15.4" width="1.1" height="3.5" opacity="0.30" fill="#48709e"/>
<rect x="579.9" y="15.4" width="1" height="1.2" opacity="0.80" fill="#4eaea6"/>
<rect x="579.9" y="15.4" width="0.7" height="2.1" opacity="0.34"/>
<rect x="581.3" y="15.4" width="2.6" height="1.2" opacity="0.80" fill="#4eaea6"/>
<rect x="581.3" y="15.4" width="2.6" height="1.4" opacity="0.34"/>
<rect x="585.1" y="15.8" width="1.4" height="1.2" opacity="0.80" fill="#4eaea6"/>
<rect x="585.1" y="15.8" width="1.4" height="3.2" opacity="0.30" fill="#48709e"/>
<rect x="586.9" y="15.8" width="1.1" height="1.2" opacity="0.80" fill="#4eaea6"/>
<rect x="586.9" y="15.8" width="1.1" height="6.3" opacity="0.30" fill="#48709e"/>
<rect x="593.9" y="15.4" width="1.1" height="1.2" opacity="0.80" fill="#4eaea6"/>
<rect x="593.9" y="15.4" width="1.1" height="6.1" opacity="0.30" fill="#48709e"/>
<rect x="605.8" y="15.1" width="1.1" height="1.2" opacity="0.80" fill="#4eaea6"/>
<rect x="605.8" y="15.1" width="1.1" height="1.1" opacity="0.34"/>
<rect x="606.2" y="18.9" width="2.3" height="1.2" opacity="0.80" fill="#4eaea6"/>
<rect x="606.2" y="18.9" width="2.3" height="1.1" opacity="0.34"/>
<rect x="612.5" y="15.8" width="1.4" height="1.2" opacity="0.80" fill="#4eaea6"/>
<rect x="612.5" y="15.8" width="1.4" height="1.1" opacity="0.34"/>
<rect x="619" y="15.8" width="1.2" height="1.2" opacity="0.80" fill="#4eaea6"/>
<rect x="619" y="15.8" width="1.2" height="5.3" opacity="0.30" fill="#48709e"/>
<rect x="620.2" y="18.9" width="1.4" height="1.2" opacity="0.80" fill="#4eaea6"/>
<rect x="620.2" y="18.9" width="1.4" height="1.1" opacity="0.34"/>
<rect x="623" y="15.4" width="1.8" height="1.2" opacity="0.80" fill="#4eaea6"/>
<rect x="623" y="15.4" width="1.8" height="3.5" opacity="0.30" fill="#48709e"/>
<rect x="629.5" y="18.9" width="1.8" height="1.2" opacity="0.80" fill="#4eaea6"/>
<rect x="629.5" y="18.9" width="1.8" height="1.1" opacity="0.34"/>
<rect x="519.9" y="23.9" width="2.1" height="1.1" opacity="0.57"/>
<rect x="524.9" y="23.9" width="1.1" height="1.1" opacity="0.57"/>
<rect x="526.1" y="22.5" width="11.4" height="0.7" opacity="0.40"/>
<rect x="536.6" y="23.9" width="1.1" height="1.4" opacity="0.57"/>
<rect x="538.5" y="23.9" width="1.1" height="1.4" opacity="0.57"/>
<rect x="542.7" y="22.5" width="12.3" height="0.9" opacity="0.40"/>
<rect x="552.4" y="21" width="1.8" height="2.1" opacity="0.57"/>
<rect x="564.1" y="22.1" width="1.8" height="6" opacity="0.50" fill="#48709e"/>
<rect x="569.9" y="22.8" width="1.2" height="3.2" opacity="0.50" fill="#48709e"/>
<rect x="571.7" y="22.5" width="1.2" height="1.1" opacity="0.57"/>
<rect x="573.9" y="22.5" width="1.1" height="1.1" opacity="0.57"/>
<rect x="576" y="22.5" width="1.8" height="1.1" opacity="0.57"/>
<rect x="579.2" y="22.5" width="1.1" height="4.6" opacity="0.50" fill="#48709e"/>
<rect x="580.4" y="23.2" width="1.8" height="1.1" opacity="0.57"/>
<rect x="582.2" y="22.5" width="28.9" height="0.9" opacity="0.34"/>
<rect x="596.2" y="23.9" width="0.9" height="1.1" opacity="0.57"/>
<rect x="599.7" y="23.9" width="0.9" height="1.1" opacity="0.57"/>
<rect x="603.2" y="23.9" width="0.9" height="1.1" opacity="0.57"/>
<rect x="607.2" y="23.9" width="1.1" height="1.1" opacity="0.57"/>
<rect x="612" y="22.1" width="3.2" height="5.3" opacity="0.81"/>
<rect x="615.5" y="22.5" width="18.4" height="1.1" opacity="0.57"/>
<rect x="632.1" y="23.5" width="1.8" height="1.8" opacity="0.57"/>
<rect x="524.7" y="27.4" width="3.2" height="7.4" opacity="0.85"/>
<rect x="613.7" y="27.4" width="2.3" height="7.4" opacity="0.85"/>
<rect x="618.4" y="27.7" width="1.4" height="6.7" opacity="0.53" fill="#48709e"/>
<rect x="519.9" y="33.9" width="1.4" height="6.5" opacity="0.53" fill="#48709e"/>
<rect x="577.8" y="33.3" width="3.9" height="7.4" opacity="0.85"/>
<rect x="583" y="33.3" width="3.2" height="7" opacity="0.85"/>
<rect x="600.2" y="34" width="2.5" height="6.3" opacity="0.85"/>
<rect x="603.5" y="34.7" width="1.4" height="5.6" opacity="0.53" fill="#48709e"/>
<rect x="630.9" y="34.7" width="1.6" height="7.9" opacity="0.53" fill="#48709e"/>
<rect x="561.5" y="45.6" width="3.3" height="8.1" opacity="0.85"/>
<rect x="540.1" y="70.4" width="4.4" height="1.2" opacity="0.59"/>
<rect x="427.1" y="66.5" width="3.9" height="5.6" opacity="0.85"/>
<rect x="442.8" y="77.9" width="1.2" height="6.5" opacity="0.53" fill="#48709e"/>
<rect x="444.8" y="77.9" width="1.4" height="6.5" opacity="0.53" fill="#48709e"/>
<rect x="449.8" y="77.9" width="1.9" height="6.5" opacity="0.85"/>
<rect x="457" y="77.6" width="3.3" height="6.8" opacity="0.85"/>
<rect x="422.3" y="96" width="3.9" height="7.7" opacity="0.85"/>
<rect x="453.2" y="96.3" width="2.5" height="7" opacity="0.85"/>
<rect x="471.8" y="96.3" width="1.8" height="7.4" opacity="0.53" fill="#48709e"/>
<rect x="474.9" y="96" width="3.2" height="7.4" opacity="0.85"/>
<rect x="504.4" y="96" width="2.5" height="7.7" opacity="0.85"/>
<rect x="510.7" y="96.3" width="2.1" height="7.4" opacity="0.85"/>
<rect x="422.3" y="109.2" width="2.1" height="6.5" opacity="0.85"/>
<rect x="409" y="113.5" width="4.2" height="1.8" opacity="0.59"/>
<rect x="513.5" y="109.5" width="3.5" height="6.5" opacity="0.85"/>
<rect x="517.3" y="110" width="1.4" height="5.6" opacity="0.53" fill="#48709e"/>
<rect x="443.7" y="127.6" width="2.8" height="7.7" opacity="0.85"/>
<rect x="485.8" y="127.6" width="2.1" height="7.4" opacity="0.85"/>
<rect x="515.2" y="128.8" width="1.4" height="5.3" opacity="0.26" fill="#48709e"/>
<rect x="539.6" y="70.4" width="5.3" height="1.1" opacity="0.33"/>
<rect x="531.2" y="77.4" width="2.8" height="7" opacity="0.85"/>
<rect x="549.4" y="77.4" width="3.2" height="7" opacity="0.85"/>
<rect x="554.7" y="77.4" width="2.3" height="7" opacity="0.85"/>
<rect x="574.8" y="96.3" width="2.3" height="7.4" opacity="0.85"/>
<rect x="607.9" y="96.3" width="1.8" height="7.4" opacity="0.53" fill="#48709e"/>
<rect x="609.7" y="96.7" width="1.8" height="6.7" opacity="0.26" fill="#48709e"/>
<rect x="615.6" y="96.3" width="3.5" height="2.1" opacity="0.59"/>
<rect x="615.6" y="98.4" width="2.8" height="5.3" opacity="0.85"/>
<rect x="519.9" y="128.8" width="1.1" height="5.3" opacity="0.26" fill="#48709e"/>
<rect x="542" y="128.8" width="1.9" height="6.5" opacity="0.85"/>
<rect x="544.8" y="127.6" width="3.2" height="7.4" opacity="0.85"/>
<rect x="607.9" y="128.3" width="1.8" height="6.3" opacity="0.53" fill="#48709e"/>
<rect x="610.7" y="130.7" width="1.1" height="0.7" opacity="0.59"/>
<rect x="414.6" y="159.3" width="1.1" height="6.5" opacity="0.24" fill="#48709e"/>
<rect x="418.8" y="159.3" width="1.1" height="6.5" opacity="0.24" fill="#48709e"/>
<rect x="420.6" y="159.3" width="1.1" height="6.5" opacity="0.24" fill="#48709e"/>
<rect x="423" y="159.3" width="1.1" height="6.5" opacity="0.24" fill="#48709e"/>
<rect x="424.8" y="159.3" width="1.4" height="6.5" opacity="0.53" fill="#48709e"/>
<rect x="427.6" y="159.3" width="1.4" height="6.5" opacity="0.53" fill="#48709e"/>
<rect x="432.3" y="159.7" width="0.9" height="1.8" opacity="0.59"/>
<rect x="435.8" y="154.1" width="1.4" height="12.3" opacity="0.45" fill="#48709e"/>
<rect x="437.8" y="157.9" width="1.4" height="7.9" opacity="0.53" fill="#48709e"/>
<rect x="439.9" y="159.3" width="1.4" height="6.5" opacity="0.26" fill="#48709e"/>
<rect x="441.6" y="159.3" width="1.8" height="6.5" opacity="0.42" fill="#48709e"/>
<rect x="443.7" y="159.3" width="1.4" height="6.5" opacity="0.42" fill="#48709e"/>
<rect x="445.5" y="159.3" width="2.8" height="7.4" opacity="0.85"/>
<rect x="445.8" y="166.7" width="1.8" height="5.3" opacity="0.53" fill="#48709e"/>
<rect x="449.8" y="159.7" width="1.2" height="6.1" opacity="0.26" fill="#48709e"/>
<rect x="452.5" y="159.7" width="1.1" height="6.1" opacity="0.26" fill="#48709e"/>
<rect x="455.6" y="159.7" width="1.1" height="6.1" opacity="0.42" fill="#48709e"/>
<rect x="466.8" y="159.3" width="1.4" height="6.5" opacity="0.26" fill="#48709e"/>
<rect x="468.6" y="159.3" width="2.1" height="6.5" opacity="0.59"/>
<rect x="471.8" y="152.7" width="1.4" height="7" opacity="0.53" fill="#48709e"/>
<rect x="492.8" y="158.8" width="2.1" height="7" opacity="0.85"/>
<rect x="495.9" y="159.3" width="1.4" height="6.5" opacity="0.26" fill="#48709e"/>
<rect x="497.7" y="159.3" width="1.4" height="6.5" opacity="0.53" fill="#48709e"/>
<rect x="500.1" y="159.3" width="1.1" height="6.5" opacity="0.26" fill="#48709e"/>
<rect x="503.3" y="159.3" width="1.1" height="6.5" opacity="0.53" fill="#48709e"/>
<rect x="512.9" y="158.8" width="1.9" height="7" opacity="0.85"/>
<rect x="514.2" y="165.8" width="1.4" height="6.5" opacity="0.26" fill="#48709e"/>
<rect x="521.7" y="153.6" width="1.1" height="11.4" opacity="0.24" fill="#48709e"/>
<rect x="523.5" y="160.6" width="1.4" height="4.4" opacity="0.53" fill="#48709e"/>
<rect x="522.4" y="165.3" width="1.8" height="7" opacity="0.53" fill="#48709e"/>
<rect x="530.1" y="165.3" width="1.8" height="6.3" opacity="0.42" fill="#48709e"/>
<rect x="535" y="157.6" width="1.1" height="7.4" opacity="0.26" fill="#48709e"/>
<rect x="538.2" y="160.6" width="1.1" height="5.3" opacity="0.26" fill="#48709e"/>
<rect x="538.9" y="165.3" width="1.4" height="6.3" opacity="0.26" fill="#48709e"/>
<rect x="560.3" y="158.8" width="1.8" height="7" opacity="0.53" fill="#48709e"/>
<rect x="569.7" y="159.3" width="1.2" height="6.5" opacity="0.32" fill="#48709e"/>
<rect x="575.7" y="159.3" width="1.6" height="6.5" opacity="0.53" fill="#48709e"/>
<rect x="580.6" y="158.5" width="2.5" height="7.4" opacity="0.85"/>
<rect x="588" y="158.8" width="1.1" height="7" opacity="0.32" fill="#48709e"/>
<rect x="620.7" y="165.5" width="2.6" height="6.5" opacity="0.85"/>
<rect x="624.4" y="165.5" width="1.8" height="6.5" opacity="0.53" fill="#48709e"/>
<rect x="630" y="165.8" width="1.1" height="6.1" opacity="0.32" fill="#48709e"/>
<rect x="631.6" y="165.5" width="1.6" height="6.8" opacity="0.53" fill="#48709e"/>
<rect x="593.2" y="228" width="4.7" height="5.4" opacity="0.85"/>
<rect x="599.9" y="228.7" width="1.9" height="4.7" opacity="0.85"/>
<rect x="605.8" y="228" width="3.2" height="5.4" opacity="0.85"/>
</g>
<rect x="498.6" y="15.6" width="8.4" height="1.2" fill="#a8d854" opacity=".5"/>
<rect x="507.4" y="15.8" width="1.2" height="5.2" fill="#7cc870" opacity=".55"/>
<rect x="405.6" y="4.8" width="229.1" height="228.4" fill="none" stroke="#000" stroke-width="0.95"/>
<path d="M405.6 233.2v3.5M405.6 233.2h-3.5" stroke="#000" stroke-width="0.95"/>
<text x="405.6" y="248.8" text-anchor="middle">0</text>
<text x="398.6" y="237.2" text-anchor="end">0</text>
<path d="M450.35 233.2v3.5M405.6 188.59h-3.5" stroke="#000" stroke-width="0.95"/>
<text x="450.35" y="248.8" text-anchor="middle">100</text>
<text x="398.6" y="192.59" text-anchor="end">100</text>
<path d="M495.09 233.2v3.5M405.6 143.98h-3.5" stroke="#000" stroke-width="0.95"/>
<text x="495.09" y="248.8" text-anchor="middle">200</text>
<text x="398.6" y="147.98" text-anchor="end">200</text>
<path d="M539.84 233.2v3.5M405.6 99.37h-3.5" stroke="#000" stroke-width="0.95"/>
<text x="539.84" y="248.8" text-anchor="middle">300</text>
<text x="398.6" y="103.37" text-anchor="end">300</text>
<path d="M584.58 233.2v3.5M405.6 54.76h-3.5" stroke="#000" stroke-width="0.95"/>
<text x="584.58" y="248.8" text-anchor="middle">400</text>
<text x="398.6" y="58.76" text-anchor="end">400</text>
<path d="M629.33 233.2v3.5M405.6 10.15h-3.5" stroke="#000" stroke-width="0.95"/>
<text x="629.33" y="248.8" text-anchor="middle">500</text>
<text x="398.6" y="14.15" text-anchor="end">500</text>
<text x="520.15" y="263.2" text-anchor="middle">Time [s]</text>
<text transform="translate(372.2 119.6) rotate(-90)" text-anchor="middle">Frequency Bins</text>
<rect x="649.2" y="5.6" width="11.4" height="227.2" fill="url(#vir)" stroke="#000" stroke-width="0.95"/>
<path d="M660.6 232.8h3.5" stroke="#000" stroke-width="0.95"/>
<text x="667.6" y="236.85" font-size="10.3">0.0</text>
<path d="M660.6 187.36h3.5" stroke="#000" stroke-width="0.95"/>
<text x="667.6" y="191.41" font-size="10.3">0.2</text>
<path d="M660.6 141.92h3.5" stroke="#000" stroke-width="0.95"/>
<text x="667.6" y="145.97" font-size="10.3">0.4</text>
<path d="M660.6 96.48h3.5" stroke="#000" stroke-width="0.95"/>
<text x="667.6" y="100.53" font-size="10.3">0.6</text>
<path d="M660.6 51.04h3.5" stroke="#000" stroke-width="0.95"/>
<text x="667.6" y="55.09" font-size="10.3">0.8</text>
<path d="M660.6 5.6h3.5" stroke="#000" stroke-width="0.95"/>
<text x="667.6" y="9.65" font-size="10.3">1.0</text>
</g>
<text class="lab" x="368.6" y="247.3">b</text>
<g class="p" font-size="8.6">
<rect x="36.6" y="285.7" width="239.3" height="239.9" fill="#400a5b"/>
<g fill="url(#stc)">
<rect x="47.1" y="297" width="1.1" height="3.7"/>
<rect x="48.3" y="297.4" width="0.9" height="1.1"/>
<rect x="50.2" y="298.1" width="0.5" height="0.7" opacity="0.55"/>
<rect x="83.9" y="296.3" width="1.1" height="4.9"/>
<rect x="83.9" y="294.1" width="1.1" height="1.1" opacity="0.55"/>
<rect x="91.6" y="298.1" width="1.1" height="0.7" opacity="0.55"/>
<rect x="96" y="297" width="1.1" height="4.2"/>
<rect x="103.6" y="297.4" width="2.2" height="2.9" opacity="0.55"/>
<rect x="113.1" y="297.4" width="0.9" height="2.9" opacity="0.55"/>
<rect x="119.7" y="297.7" width="1.1" height="1.1"/>
<rect x="124.8" y="294.4" width="1.1" height="5.9"/>
<rect x="126.6" y="298.5" width="1.1" height="1.1" opacity="0.55"/>
<rect x="129.5" y="297.4" width="1.5" height="1.5" opacity="0.55"/>
<rect x="135" y="297.4" width="1.5" height="2.9"/>
<rect x="137.2" y="297.7" width="1.1" height="2.2" opacity="0.55"/>
<rect x="143.8" y="296.6" width="1.1" height="3.7"/>
<rect x="145.2" y="298.8" width="1.1" height="1.5" opacity="0.55"/>
<rect x="37.8" y="301.2" width="0.9" height="4.6" opacity="0.55"/>
<rect x="56.2" y="302.5" width="0.7" height="3.3" opacity="0.40"/>
<rect x="70.2" y="304.3" width="0.9" height="1.1"/>
<rect x="76.3" y="303.9" width="0.7" height="2.7" opacity="0.40"/>
<rect x="82.5" y="304.7" width="1.5" height="0.7" opacity="0.40"/>
<rect x="127.7" y="301.2" width="1.1" height="2.7" opacity="0.40"/>
<rect x="143.8" y="301.2" width="1.1" height="3.7" opacity="0.40"/>
<rect x="149.2" y="301.2" width="1.1" height="4.2" opacity="0.40"/>
<rect x="78.1" y="309.4" width="0.7" height="7.3" opacity="0.55"/>
<rect x="79.4" y="309.4" width="1.3" height="7.3"/>
<rect x="81.4" y="309.8" width="1.1" height="6.9"/>
<rect x="83.2" y="309.8" width="1.1" height="6.9" opacity="0.80"/>
<rect x="87.9" y="309.4" width="1.1" height="7.3"/>
<rect x="89.4" y="311.3" width="0.7" height="5.5" opacity="0.55"/>
<rect x="98.2" y="312.2" width="0.9" height="4.2"/>
<rect x="99.6" y="311.3" width="0.7" height="2.7" opacity="0.55"/>
<rect x="103.3" y="309.4" width="1.1" height="7.3"/>
<rect x="104.4" y="315.6" width="1.1" height="1.1"/>
<rect x="115.3" y="310.3" width="1.5" height="5.5" opacity="0.55"/>
<rect x="115.3" y="315.8" width="1.5" height="7.3"/>
<rect x="115.7" y="323.1" width="0.7" height="2.7" opacity="0.55"/>
<rect x="117.1" y="315.8" width="1.1" height="7.3"/>
<rect x="119.7" y="309.4" width="1.5" height="13.7"/>
<rect x="121.5" y="312.2" width="0.7" height="10.1" opacity="0.55"/>
<rect x="123.2" y="310.3" width="1.3" height="12.8" opacity="0.85"/>
<rect x="129.2" y="315.3" width="1.3" height="1.1" opacity="0.55"/>
<rect x="132.5" y="311.3" width="1.5" height="5.5" opacity="0.40"/>
<rect x="151.4" y="309.1" width="1.5" height="8"/>
<rect x="144.1" y="316.4" width="1.8" height="7.3" opacity="0.60"/>
<rect x="155.1" y="318.6" width="0.9" height="4.6"/>
<rect x="99.4" y="330.5" width="1.6" height="8.2"/>
<rect x="99.8" y="338.7" width="0.7" height="2.7" opacity="0.55"/>
<rect x="107.6" y="331" width="1.8" height="7.3" opacity="0.85"/>
<rect x="60.2" y="345.1" width="1.8" height="10.1" opacity="0.60"/>
<rect x="187" y="290.8" width="1.1" height="1.1" opacity="0.55"/>
<rect x="173.3" y="297.4" width="2" height="2.9" opacity="0.60"/>
<rect x="186.3" y="294.4" width="2.2" height="9.5" fill="#ecf03e"/>
<rect x="198" y="297" width="1.1" height="3.3"/>
<rect x="216.6" y="297.4" width="1.5" height="2.9" opacity="0.80"/>
<rect x="219.5" y="297.4" width="1.5" height="1.5" opacity="0.70"/>
<rect x="223.5" y="297" width="2.2" height="3.7" opacity="0.80"/>
<rect x="224.6" y="294.1" width="0.7" height="1.1" opacity="0.40"/>
<rect x="233.9" y="297" width="1.1" height="3.7"/>
<rect x="167.7" y="300.3" width="1.1" height="2.2" opacity="0.40"/>
<rect x="162.6" y="304.7" width="0.7" height="1.1" opacity="0.40"/>
<rect x="175" y="303.9" width="0.7" height="3.3" opacity="0.40"/>
<rect x="179" y="304.3" width="0.7" height="1.5" opacity="0.40"/>
<rect x="187.8" y="304.3" width="0.7" height="1.5" opacity="0.55"/>
<rect x="204.2" y="301.7" width="0.7" height="4" opacity="0.40"/>
<rect x="224.2" y="301.7" width="0.7" height="4" opacity="0.40"/>
<rect x="228.6" y="302.1" width="0.7" height="3.7" opacity="0.40"/>
<rect x="233" y="304.3" width="1.1" height="1.5" opacity="0.40"/>
<rect x="238.1" y="303.9" width="1.1" height="3.7" opacity="0.80"/>
<rect x="240.3" y="305.8" width="0.7" height="1.8" opacity="0.55"/>
<rect x="249.4" y="304.3" width="0.7" height="3.3" opacity="0.80"/>
<rect x="268" y="301" width="1.1" height="4.8" opacity="0.40"/>
<rect x="271" y="304.3" width="1.1" height="1.5" opacity="0.40"/>
<rect x="162.2" y="310.3" width="2.6" height="6.8" opacity="0.70"/>
<rect x="156" y="318.6" width="0.9" height="4.6"/>
<rect x="239.9" y="312" width="0.7" height="1.1" opacity="0.40"/>
<rect x="255.3" y="309.1" width="1.5" height="8"/>
<rect x="218.8" y="315.3" width="1.1" height="3.3" opacity="0.55"/>
<rect x="218.8" y="318.6" width="1.1" height="4.6"/>
<rect x="219" y="323.1" width="0.7" height="3.7" opacity="0.55"/>
<rect x="217.7" y="319.3" width="3.3" height="1.5" opacity="0.80"/>
<rect x="223.2" y="318.9" width="1.5" height="3.7" opacity="0.80"/>
<rect x="240.7" y="318.9" width="2.2" height="3.7" opacity="0.50"/>
<rect x="162.2" y="329.2" width="2.6" height="1.1" opacity="0.35"/>
<rect x="255.6" y="329.2" width="1.1" height="1.1" opacity="0.35"/>
<rect x="201.6" y="329.9" width="1.3" height="6.9" opacity="0.90"/>
<rect x="60.2" y="350.1" width="1.8" height="8.2" opacity="0.60"/>
<rect x="75.9" y="360.2" width="1.1" height="11.5" opacity="0.80"/>
<rect x="77.4" y="361.5" width="1.5" height="7.9" opacity="0.80"/>
<rect x="83.6" y="360.7" width="1.5" height="8.6" opacity="0.80"/>
<rect x="90.9" y="360.2" width="1.1" height="11.5" opacity="0.80"/>
<rect x="92.3" y="363.8" width="1.1" height="4.6" opacity="0.60"/>
<rect x="106.9" y="375.4" width="0.7" height="0.7" opacity="0.55"/>
<rect x="110.9" y="375.4" width="0.7" height="0.7" opacity="0.55"/>
<rect x="141.2" y="375.4" width="0.7" height="0.7" opacity="0.55"/>
<rect x="147.1" y="375.4" width="0.7" height="0.7" opacity="0.55"/>
<rect x="55.8" y="383" width="1.1" height="5.5" opacity="0.80"/>
<rect x="56.9" y="387.4" width="1.1" height="1.1" opacity="0.60"/>
<rect x="106.5" y="380.9" width="1.5" height="8.6"/>
<rect x="109.5" y="383" width="1.5" height="6.4" opacity="0.90"/>
<rect x="111.3" y="384" width="1.1" height="5.5" opacity="0.60"/>
<rect x="141" y="382.7" width="1.3" height="6.8" opacity="0.80"/>
<rect x="147.1" y="383" width="2.2" height="6.4" opacity="0.90"/>
<rect x="150.2" y="395.9" width="3.5" height="7.3" fill="#ecf03e"/>
<rect x="78.1" y="415.1" width="1.8" height="7.3" opacity="0.70"/>
<rect x="187" y="360.2" width="2.9" height="11.5" opacity="0.70"/>
<rect x="214" y="375.4" width="0.7" height="0.7" opacity="0.55"/>
<rect x="249.1" y="375.4" width="0.7" height="0.7" opacity="0.55"/>
<rect x="250.9" y="375.4" width="0.7" height="0.7" opacity="0.55"/>
<rect x="256.7" y="375.4" width="0.7" height="0.7" opacity="0.55"/>
<rect x="213.7" y="382.3" width="2.6" height="7.1" fill="#ecf03e"/>
<rect x="248.3" y="382.7" width="1.5" height="6.2" opacity="0.80"/>
<rect x="250.2" y="382.7" width="1.8" height="6.2" opacity="0.70"/>
<rect x="256.7" y="382.3" width="3.3" height="7.1" opacity="0.95" fill="#ecf03e"/>
<rect x="182.3" y="416.9" width="1.5" height="4.9" opacity="0.80"/>
<rect x="183.7" y="415.1" width="1.5" height="7.3"/>
<rect x="78.1" y="418.3" width="1.5" height="4" opacity="0.60"/>
<rect x="47.1" y="450.5" width="0.9" height="3.7" opacity="0.45"/>
<rect x="51.1" y="450.5" width="1.8" height="3.7" opacity="0.45"/>
<rect x="56.9" y="448.4" width="1.1" height="6" opacity="0.80"/>
<rect x="59.8" y="450.5" width="1.1" height="3.7" opacity="0.45"/>
<rect x="68.2" y="450.5" width="1.1" height="3.7" opacity="0.70"/>
<rect x="70.1" y="450.5" width="1.1" height="3.7" opacity="0.45"/>
<rect x="72.6" y="448.4" width="1.1" height="6" opacity="0.80"/>
<rect x="74.4" y="450.5" width="1.5" height="3.7" opacity="0.60"/>
<rect x="79.2" y="448.4" width="1.8" height="13.3" opacity="0.45"/>
<rect x="101.4" y="450.5" width="1.5" height="3.7" opacity="0.35"/>
<rect x="131.7" y="448.4" width="1.5" height="9.1"/>
<rect x="133.6" y="450.5" width="1.1" height="1.8" opacity="0.70"/>
<rect x="135.7" y="448.4" width="1.1" height="1.3" opacity="0.70"/>
<rect x="149.6" y="448.4" width="1.1" height="6" opacity="0.45"/>
<rect x="182.6" y="418.3" width="2.6" height="4" fill="#ecf03e"/>
<rect x="184.1" y="434.4" width="0.7" height="0.7" opacity="0.40"/>
<rect x="159.6" y="450.3" width="1.1" height="10.4" opacity="0.40"/>
<rect x="166.9" y="450.3" width="1.1" height="10.4" opacity="0.50"/>
<rect x="214.8" y="450.5" width="1.1" height="4" opacity="0.80"/>
<rect x="220.2" y="450.5" width="1.5" height="4" opacity="0.35"/>
<rect x="233.7" y="519.7" width="3.6" height="6" fill="#ecf03e"/>
<rect x="237" y="517.3" width="0.7" height="2.4" opacity="0.50"/>
<rect x="239.9" y="519.2" width="1.1" height="6.6" opacity="0.50"/>
<rect x="247.6" y="522.8" width="1.1" height="1.1" opacity="0.45"/>
</g>
<rect x="36.6" y="285.7" width="239.3" height="239.9" fill="none" stroke="#000" stroke-width="0.81"/>
<path d="M36.6 525.6v2.98M36.6 525.6h-2.98" stroke="#000" stroke-width="0.81"/>
<text x="36.6" y="538.86" text-anchor="middle">0</text>
<text x="30.65" y="529" text-anchor="end">0</text>
<path d="M83.34 525.6v2.98M36.6 478.74h-2.98" stroke="#000" stroke-width="0.81"/>
<text x="83.34" y="538.86" text-anchor="middle">100</text>
<text x="30.65" y="482.14" text-anchor="end">100</text>
<path d="M130.08 525.6v2.98M36.6 431.89h-2.98" stroke="#000" stroke-width="0.81"/>
<text x="130.08" y="538.86" text-anchor="middle">200</text>
<text x="30.65" y="435.29" text-anchor="end">200</text>
<path d="M176.81 525.6v2.98M36.6 385.03h-2.98" stroke="#000" stroke-width="0.81"/>
<text x="176.81" y="538.86" text-anchor="middle">300</text>
<text x="30.65" y="388.43" text-anchor="end">300</text>
<path d="M223.55 525.6v2.98M36.6 338.18h-2.98" stroke="#000" stroke-width="0.81"/>
<text x="223.55" y="538.86" text-anchor="middle">400</text>
<text x="30.65" y="341.58" text-anchor="end">400</text>
<path d="M270.29 525.6v2.98M36.6 291.32h-2.98" stroke="#000" stroke-width="0.81"/>
<text x="270.29" y="538.86" text-anchor="middle">500</text>
<text x="30.65" y="294.72" text-anchor="end">500</text>
<text x="156.25" y="551.1" text-anchor="middle">Time [s]</text>
<text transform="translate(8.21 406.25) rotate(-90)" text-anchor="middle">Frequency Bins</text>
<rect x="287.6" y="291.6" width="10.9" height="226.2" fill="url(#vir)" stroke="#000" stroke-width="0.81"/>
<path d="M298.5 517.8h3.5" stroke="#000" stroke-width="0.95"/>
<text x="305.5" y="521.85" font-size="10.3">0.0</text>
<path d="M298.5 472.56h3.5" stroke="#000" stroke-width="0.95"/>
<text x="305.5" y="476.61" font-size="10.3">0.2</text>
<path d="M298.5 427.32h3.5" stroke="#000" stroke-width="0.95"/>
<text x="305.5" y="431.37" font-size="10.3">0.4</text>
<path d="M298.5 382.08h3.5" stroke="#000" stroke-width="0.95"/>
<text x="305.5" y="386.13" font-size="10.3">0.6</text>
<path d="M298.5 336.84h3.5" stroke="#000" stroke-width="0.95"/>
<text x="305.5" y="340.89" font-size="10.3">0.8</text>
<path d="M298.5 291.6h3.5" stroke="#000" stroke-width="0.95"/>
<text x="305.5" y="295.65" font-size="10.3">1.0</text>
</g>
<text class="lab" x="5.8" y="537.9">c</text>
<g class="p" font-size="8.6">
<rect x="397.5" y="285.7" width="240.1" height="239.9" fill="#400a5b"/>
<g fill="url(#stc)">
<rect x="426.4" y="300.3" width="1.1" height="7.3" opacity="0.50"/>
<rect x="426.4" y="310.9" width="1.1" height="4" opacity="0.35"/>
<rect x="440.6" y="300.3" width="1.5" height="7.3" opacity="0.70"/>
<rect x="440.6" y="310.3" width="1.5" height="5.5" opacity="0.45"/>
<rect x="530.2" y="300.3" width="1.8" height="6.4" opacity="0.70"/>
<rect x="530.2" y="307.6" width="2.2" height="8.2" opacity="0.30"/>
<rect x="621.7" y="300.3" width="1.5" height="7.3" opacity="0.42"/>
<rect x="621.7" y="310.9" width="1.5" height="4.4" opacity="0.28"/>
<rect x="590.2" y="317.1" width="2.2" height="6.9" opacity="0.85"/>
<rect x="590.6" y="326.2" width="1.5" height="4.8" opacity="0.75"/>
<rect x="423.1" y="448.4" width="3.3" height="7.3" opacity="0.90"/>
<rect x="424.5" y="455.8" width="2.2" height="6.4" opacity="0.50"/>
<rect x="438.5" y="450.3" width="3.7" height="6.8" opacity="0.90"/>
<rect x="440.6" y="457" width="1.8" height="8.4" opacity="0.50"/>
<rect x="500.3" y="448.4" width="2.2" height="3.1" opacity="0.95" fill="#ecf03e"/>
<rect x="501.4" y="451.6" width="1.1" height="6.6" opacity="0.45"/>
<rect x="606.5" y="517.7" width="1.5" height="8" opacity="0.50"/>
</g>
<rect x="397.5" y="285.7" width="240.1" height="239.9" fill="none" stroke="#000" stroke-width="0.81"/>
<path d="M397.5 525.6v2.98M397.5 525.6h-2.98" stroke="#000" stroke-width="0.81"/>
<text x="397.5" y="538.86" text-anchor="middle">0</text>
<text x="391.55" y="529" text-anchor="end">0</text>
<path d="M444.39 525.6v2.98M397.5 478.74h-2.98" stroke="#000" stroke-width="0.81"/>
<text x="444.39" y="538.86" text-anchor="middle">100</text>
<text x="391.55" y="482.14" text-anchor="end">100</text>
<path d="M491.29 525.6v2.98M397.5 431.89h-2.98" stroke="#000" stroke-width="0.81"/>
<text x="491.29" y="538.86" text-anchor="middle">200</text>
<text x="391.55" y="435.29" text-anchor="end">200</text>
<path d="M538.18 525.6v2.98M397.5 385.03h-2.98" stroke="#000" stroke-width="0.81"/>
<text x="538.18" y="538.86" text-anchor="middle">300</text>
<text x="391.55" y="388.43" text-anchor="end">300</text>
<path d="M585.08 525.6v2.98M397.5 338.18h-2.98" stroke="#000" stroke-width="0.81"/>
<text x="585.08" y="538.86" text-anchor="middle">400</text>
<text x="391.55" y="341.58" text-anchor="end">400</text>
<path d="M631.97 525.6v2.98M397.5 291.32h-2.98" stroke="#000" stroke-width="0.81"/>
<text x="631.97" y="538.86" text-anchor="middle">500</text>
<text x="391.55" y="294.72" text-anchor="end">500</text>
<text x="517.55" y="551.1" text-anchor="middle">Time [s]</text>
<text transform="translate(369.11 406.25) rotate(-90)" text-anchor="middle">Frequency Bins</text>
<rect x="648.6" y="291.6" width="11.9" height="227" fill="url(#vir)" stroke="#000" stroke-width="0.81"/>
<path d="M660.5 518.6h3.5" stroke="#000" stroke-width="0.95"/>
<text x="667.5" y="522.65" font-size="10.3">0.0</text>
<path d="M660.5 473.2h3.5" stroke="#000" stroke-width="0.95"/>
<text x="667.5" y="477.25" font-size="10.3">0.2</text>
<path d="M660.5 427.8h3.5" stroke="#000" stroke-width="0.95"/>
<text x="667.5" y="431.85" font-size="10.3">0.4</text>
<path d="M660.5 382.4h3.5" stroke="#000" stroke-width="0.95"/>
<text x="667.5" y="386.45" font-size="10.3">0.6</text>
<path d="M660.5 337h3.5" stroke="#000" stroke-width="0.95"/>
<text x="667.5" y="341.05" font-size="10.3">0.8</text>
<path d="M660.5 291.6h3.5" stroke="#000" stroke-width="0.95"/>
<text x="667.5" y="295.65" font-size="10.3">1.0</text>
</g>
<text class="lab" x="368.6" y="537.9">d</text>
<g class="p" font-size="10.3">
<rect x="48.6" y="573.4" width="228.7" height="228" fill="#400a5b"/>
<g fill="#ecf03e">
<rect x="49.4" y="584" width="0.9" height="1.1"/>
<rect x="51.3" y="584" width="0.9" height="1.1"/>
<rect x="53.1" y="584" width="0.9" height="1.1"/>
<rect x="54.5" y="584" width="1" height="1.1"/>
<rect x="58.3" y="584.4" width="1.2" height="6.3"/>
<rect x="60.1" y="584" width="1.4" height="5.3"/>
<rect x="67.9" y="584.4" width="0.9" height="5.3"/>
<rect x="69.5" y="584.4" width="1" height="5.3"/>
<rect x="93.1" y="583.7" width="2.6" height="7"/>
<rect x="97.5" y="584" width="1" height="6.1"/>
<rect x="100.6" y="584" width="0.9" height="6.1"/>
<rect x="104.5" y="584" width="1" height="6.1"/>
<rect x="106.2" y="584" width="1" height="6.1"/>
<rect x="108" y="584" width="1" height="6.1"/>
<rect x="111.5" y="583.7" width="1.4" height="7"/>
<rect x="113.4" y="583.7" width="1.2" height="7"/>
<rect x="120.8" y="583.7" width="1.2" height="7"/>
<rect x="122.5" y="584.4" width="2.3" height="1.4"/>
<rect x="127.4" y="584.4" width="1.2" height="3.2"/>
<rect x="131.3" y="583.7" width="2.6" height="7"/>
<rect x="134.2" y="583.7" width="1.7" height="7"/>
<rect x="137" y="583.7" width="1.7" height="7"/>
<rect x="141.2" y="584" width="1" height="6.1"/>
<rect x="143" y="584" width="1.4" height="6.1"/>
<rect x="145.1" y="584" width="1" height="6.1"/>
<rect x="147.2" y="584" width="1" height="6.1"/>
<rect x="149.3" y="584" width="1" height="6.1"/>
<rect x="151" y="584" width="1" height="6.1"/>
<rect x="153.1" y="584.9" width="1" height="4.4"/>
<rect x="155.2" y="586.6" width="0.7" height="2.6"/>
<rect x="157.5" y="584" width="1.7" height="1.1"/>
<rect x="159.8" y="586.6" width="1.2" height="1.8"/>
<rect x="49.4" y="591.4" width="0.9" height="0.7"/>
<rect x="52.5" y="592.4" width="1.2" height="0.9"/>
<rect x="54.8" y="592.4" width="1" height="0.9"/>
<rect x="60.1" y="591" width="3.8" height="1.8"/>
<rect x="66.5" y="591.4" width="0.9" height="1.1"/>
<rect x="78.8" y="591.4" width="1.7" height="1.4"/>
<rect x="82.8" y="590.3" width="5.2" height="1.4"/>
<rect x="86.6" y="591.7" width="1" height="1.9"/>
<rect x="91.9" y="590.7" width="0.9" height="3.9"/>
<rect x="93.6" y="591.4" width="1.7" height="0.7"/>
<rect x="97.1" y="592.4" width="3.5" height="0.9"/>
<rect x="100.3" y="590.7" width="13.5" height="1.4" opacity="0.70"/>
<rect x="108.5" y="592.1" width="0.9" height="1.6"/>
<rect x="113.8" y="591" width="6.1" height="0.7" opacity="0.70"/>
<rect x="119.9" y="591.7" width="1.7" height="1.8"/>
<rect x="121.6" y="590.7" width="7.9" height="1.1" opacity="0.70"/>
<rect x="131.8" y="590.7" width="1.4" height="2.8"/>
<rect x="134.8" y="590.7" width="1.2" height="2.8"/>
<rect x="137.4" y="591" width="3.5" height="0.7" opacity="0.70"/>
<rect x="146.1" y="591.4" width="5.2" height="0.7" opacity="0.70"/>
<rect x="154.9" y="590.7" width="1.7" height="1.1"/>
<rect x="157.5" y="591" width="5.2" height="0.7" opacity="0.70"/>
<rect x="87" y="596.3" width="3.1" height="6.7"/>
<rect x="91" y="596.3" width="3" height="6.7"/>
<rect x="96.8" y="596.3" width="3" height="6.7"/>
<rect x="107.1" y="595.9" width="2.8" height="7.4"/>
<rect x="111.1" y="596.3" width="3.5" height="6.7"/>
<rect x="123" y="596.3" width="3.5" height="12.6"/>
<rect x="127.2" y="596.3" width="2.8" height="13.1"/>
<rect x="130.4" y="596.3" width="1.4" height="11.4"/>
<rect x="131.8" y="596.3" width="0.9" height="7"/>
<rect x="135.6" y="596.3" width="2.1" height="6.7"/>
<rect x="139.1" y="596.3" width="2.6" height="6.7"/>
<rect x="157.5" y="595.9" width="2.6" height="7"/>
<rect x="150" y="601.9" width="2.6" height="7"/>
<rect x="160.5" y="601.9" width="2.3" height="7.5"/>
<rect x="107.6" y="614.8" width="2.8" height="7.2"/>
<rect x="114.3" y="615.2" width="1.2" height="6.5"/>
<rect x="116" y="615.2" width="2.4" height="6.5"/>
<rect x="134.4" y="614.8" width="1.9" height="6.3"/>
<rect x="70" y="633.4" width="3.8" height="6.7"/>
<rect x="164.5" y="584.4" width="0.7" height="1.8"/>
<rect x="168.9" y="584.4" width="1.7" height="6.3"/>
<rect x="171.1" y="584" width="1.4" height="5.3"/>
<rect x="173.2" y="584.9" width="1" height="5.8"/>
<rect x="176.4" y="584" width="1.7" height="5.3"/>
<rect x="178.8" y="584.4" width="1.4" height="6.3"/>
<rect x="180.9" y="584.4" width="1.4" height="3.2"/>
<rect x="183" y="584" width="2.1" height="2.6"/>
<rect x="189.9" y="583.7" width="4" height="7"/>
<rect x="194.2" y="583.7" width="2.6" height="2.1"/>
<rect x="197.7" y="587.2" width="2.6" height="1.1"/>
<rect x="198.6" y="583.7" width="5.2" height="1.4"/>
<rect x="200.9" y="585.1" width="1.4" height="5.6"/>
<rect x="203" y="585.1" width="1" height="5.6"/>
<rect x="204.7" y="584" width="1" height="2.1"/>
<rect x="206.8" y="584" width="1" height="2.1"/>
<rect x="208.6" y="584" width="1" height="5.3"/>
<rect x="212.1" y="584.9" width="1.4" height="1.8"/>
<rect x="214.5" y="584.9" width="1" height="1.8"/>
<rect x="216.3" y="584.9" width="0.7" height="1.8"/>
<rect x="220.8" y="584" width="1" height="3.5"/>
<rect x="222.6" y="584" width="0.7" height="2.1"/>
<rect x="224" y="584" width="2.6" height="1.4"/>
<rect x="227.8" y="584.4" width="1.4" height="3.2"/>
<rect x="229.6" y="584.4" width="1" height="6.3"/>
<rect x="236.6" y="584" width="1" height="6.1"/>
<rect x="248.5" y="583.7" width="1" height="1.1"/>
<rect x="248.8" y="587.5" width="2.3" height="1.1"/>
<rect x="255.1" y="584.4" width="1.4" height="1.1"/>
<rect x="261.6" y="584.4" width="1.2" height="5.3"/>
<rect x="262.8" y="587.5" width="1.4" height="1.1"/>
<rect x="265.6" y="584" width="1.7" height="3.5"/>
<rect x="272.1" y="587.5" width="1.7" height="1.1"/>
<rect x="162.8" y="592.4" width="2.1" height="1.1"/>
<rect x="167.6" y="592.4" width="1" height="1.1"/>
<rect x="168.9" y="591" width="11.4" height="0.7" opacity="0.70"/>
<rect x="179.4" y="592.4" width="1" height="1.4"/>
<rect x="181.3" y="592.4" width="1" height="1.4"/>
<rect x="185.5" y="591" width="12.2" height="0.9" opacity="0.70"/>
<rect x="195.1" y="589.6" width="1.7" height="2.1"/>
<rect x="206.8" y="590.7" width="1.7" height="6"/>
<rect x="212.6" y="591.4" width="1.2" height="3.2"/>
<rect x="214.4" y="591" width="1.2" height="1.1"/>
<rect x="216.6" y="591" width="1" height="1.1"/>
<rect x="218.7" y="591" width="1.7" height="1.1"/>
<rect x="221.9" y="591" width="1" height="4.6"/>
<rect x="223.1" y="591.7" width="1.7" height="1.1"/>
<rect x="224.9" y="591" width="28.9" height="0.9" opacity="0.60"/>
<rect x="238.9" y="592.4" width="0.9" height="1.1"/>
<rect x="242.4" y="592.4" width="0.9" height="1.1"/>
<rect x="245.9" y="592.4" width="0.9" height="1.1"/>
<rect x="249.9" y="592.4" width="1" height="1.1"/>
<rect x="254.6" y="590.7" width="3.1" height="5.3"/>
<rect x="258.1" y="591" width="18.4" height="1.1"/>
<rect x="274.7" y="592.1" width="1.7" height="1.8"/>
<rect x="167.5" y="595.9" width="3.1" height="7.4"/>
<rect x="256.4" y="595.9" width="2.3" height="7.4"/>
<rect x="261.1" y="596.3" width="1.4" height="6.7"/>
<rect x="162.8" y="602.4" width="1.4" height="6.5"/>
<rect x="220.5" y="601.9" width="3.8" height="7.4"/>
<rect x="225.7" y="601.9" width="3.1" height="7"/>
<rect x="242.9" y="602.6" width="2.4" height="6.3"/>
<rect x="246.2" y="603.3" width="1.4" height="5.6"/>
<rect x="273.5" y="603.3" width="1.6" height="7.9"/>
<rect x="204.2" y="614.1" width="3.3" height="8.1"/>
<rect x="182.9" y="638.8" width="4.4" height="1.2"/>
<rect x="70" y="635" width="3.8" height="5.6"/>
<rect x="85.8" y="646.4" width="1.2" height="6.5"/>
<rect x="87.7" y="646.4" width="1.4" height="6.5"/>
<rect x="92.8" y="646.4" width="1.9" height="6.5"/>
<rect x="99.9" y="646" width="3.3" height="6.8"/>
<rect x="65.3" y="664.4" width="3.8" height="7.7"/>
<rect x="96.1" y="664.8" width="2.4" height="7"/>
<rect x="114.6" y="664.8" width="1.7" height="7.4"/>
<rect x="117.8" y="664.4" width="3.1" height="7.4"/>
<rect x="147.2" y="664.4" width="2.4" height="7.7"/>
<rect x="153.5" y="664.8" width="2.1" height="7.4"/>
<rect x="65.3" y="677.6" width="2.1" height="6.5"/>
<rect x="52" y="681.9" width="4.2" height="1.8"/>
<rect x="156.3" y="677.9" width="3.5" height="6.5"/>
<rect x="160.1" y="678.4" width="1.4" height="5.6"/>
<rect x="86.6" y="696" width="2.8" height="7.7"/>
<rect x="128.6" y="696" width="2.1" height="7.4"/>
<rect x="158" y="697.2" width="1.4" height="5.3" opacity="0.50"/>
<rect x="182.3" y="638.9" width="5.2" height="1.1" opacity="0.55"/>
<rect x="173.9" y="645.9" width="2.8" height="7"/>
<rect x="192.1" y="645.9" width="3.1" height="7"/>
<rect x="197.4" y="645.9" width="2.3" height="7"/>
<rect x="217.5" y="664.8" width="2.3" height="7.4"/>
<rect x="250.6" y="664.8" width="1.7" height="7.4"/>
<rect x="252.3" y="665.1" width="1.7" height="6.7" opacity="0.50"/>
<rect x="258.3" y="664.8" width="3.5" height="2.1"/>
<rect x="258.3" y="666.9" width="2.8" height="5.3"/>
<rect x="162.8" y="697.2" width="1" height="5.3" opacity="0.50"/>
<rect x="184.8" y="697.2" width="1.9" height="6.5"/>
<rect x="187.6" y="696" width="3.1" height="7.4"/>
<rect x="250.6" y="696.7" width="1.7" height="6.3"/>
<rect x="253.4" y="699.1" width="1" height="0.7"/>
<rect x="57.6" y="727.7" width="1" height="6.5" opacity="0.45"/>
<rect x="61.8" y="727.7" width="1" height="6.5" opacity="0.45"/>
<rect x="63.6" y="727.7" width="1" height="6.5" opacity="0.45"/>
<rect x="66" y="727.7" width="1" height="6.5" opacity="0.45"/>
<rect x="67.8" y="727.7" width="1.4" height="6.5"/>
<rect x="70.5" y="727.7" width="1.4" height="6.5"/>
<rect x="75.3" y="728" width="0.9" height="1.8"/>
<rect x="78.8" y="722.4" width="1.4" height="12.3" opacity="0.85"/>
<rect x="80.7" y="726.3" width="1.4" height="7.9"/>
<rect x="82.8" y="727.7" width="1.4" height="6.5" opacity="0.50"/>
<rect x="84.5" y="727.7" width="1.7" height="6.5" opacity="0.80"/>
<rect x="86.6" y="727.7" width="1.4" height="6.5" opacity="0.80"/>
<rect x="88.4" y="727.7" width="2.8" height="7.4"/>
<rect x="88.7" y="735" width="1.7" height="5.3"/>
<rect x="92.8" y="728" width="1.2" height="6.1" opacity="0.50"/>
<rect x="95.4" y="728" width="1" height="6.1" opacity="0.50"/>
<rect x="98.5" y="728" width="1" height="6.1" opacity="0.80"/>
<rect x="109.7" y="727.7" width="1.4" height="6.5" opacity="0.50"/>
<rect x="111.5" y="727.7" width="2.1" height="6.5" opacity="0.70"/>
<rect x="114.6" y="721" width="1.4" height="7"/>
<rect x="135.6" y="727.2" width="2.1" height="7"/>
<rect x="138.8" y="727.7" width="1.4" height="6.5" opacity="0.50"/>
<rect x="140.5" y="727.7" width="1.4" height="6.5"/>
<rect x="143" y="727.7" width="1" height="6.5" opacity="0.50"/>
<rect x="146.1" y="727.7" width="1" height="6.5"/>
<rect x="155.8" y="727.2" width="1.9" height="7"/>
<rect x="157" y="734.2" width="1.4" height="6.5" opacity="0.50"/>
<rect x="164.5" y="721.9" width="1" height="11.4" opacity="0.45"/>
<rect x="166.2" y="728.9" width="1.4" height="4.4"/>
<rect x="165.2" y="733.6" width="1.7" height="7"/>
<rect x="172.9" y="733.6" width="1.7" height="6.3" opacity="0.80"/>
<rect x="177.8" y="725.9" width="1" height="7.4" opacity="0.50"/>
<rect x="180.9" y="728.9" width="1" height="5.3" opacity="0.50"/>
<rect x="181.6" y="733.6" width="1.4" height="6.3" opacity="0.50"/>
<rect x="203" y="727.2" width="1.7" height="7"/>
<rect x="212.4" y="727.7" width="1.2" height="6.5" opacity="0.60"/>
<rect x="218.4" y="727.7" width="1.6" height="6.5"/>
<rect x="223.3" y="726.8" width="2.4" height="7.4"/>
<rect x="230.6" y="727.2" width="1" height="7" opacity="0.60"/>
<rect x="263.3" y="733.8" width="2.6" height="6.5"/>
<rect x="267" y="733.8" width="1.7" height="6.5"/>
<rect x="272.6" y="734.2" width="1" height="6.1" opacity="0.60"/>
<rect x="274.2" y="733.8" width="1.6" height="6.8"/>
<rect x="235.9" y="796.2" width="4.7" height="5.4"/>
<rect x="242.5" y="796.9" width="1.9" height="4.7"/>
<rect x="248.5" y="796.2" width="3.1" height="5.4"/>
</g>
<g fill="#400a5b" opacity="0.36">
<rect x="94" y="584.6" width="0.8" height="5.2"/>
<rect x="132.2" y="584.6" width="0.8" height="5.2"/>
<rect x="87.9" y="597.2" width="1.3" height="4.9"/>
<rect x="91.9" y="597.2" width="1.2" height="4.9"/>
<rect x="97.7" y="597.2" width="1.2" height="4.9"/>
<rect x="108" y="596.8" width="1" height="5.6"/>
<rect x="112" y="597.2" width="1.7" height="4.9"/>
<rect x="123.9" y="597.2" width="1.7" height="10.8"/>
<rect x="128.1" y="597.2" width="1" height="11.3"/>
<rect x="140" y="597.2" width="0.8" height="4.9"/>
<rect x="158.4" y="596.8" width="0.8" height="5.2"/>
<rect x="150.9" y="602.8" width="0.8" height="5.2"/>
<rect x="108.5" y="615.7" width="1" height="5.4"/>
<rect x="116.9" y="616.1" width="0.6" height="4.7"/>
<rect x="70.9" y="634.3" width="2" height="4.9"/>
<rect x="190.8" y="584.6" width="2.2" height="5.2"/>
<rect x="255.5" y="591.6" width="1.3" height="3.5"/>
<rect x="168.4" y="596.8" width="1.3" height="5.6"/>
<rect x="221.4" y="602.8" width="2" height="5.6"/>
<rect x="226.6" y="602.8" width="1.3" height="5.2"/>
<rect x="243.8" y="603.5" width="0.6" height="4.5"/>
<rect x="205.1" y="615" width="1.5" height="6.3"/>
<rect x="70.9" y="635.9" width="2" height="3.8"/>
<rect x="100.8" y="646.9" width="1.5" height="5"/>
<rect x="66.2" y="665.3" width="2" height="5.9"/>
<rect x="97" y="665.7" width="0.6" height="5.2"/>
<rect x="118.7" y="665.3" width="1.3" height="5.6"/>
<rect x="148.1" y="665.3" width="0.6" height="5.9"/>
<rect x="157.2" y="678.8" width="1.7" height="4.7"/>
<rect x="87.5" y="696.9" width="1" height="5.9"/>
<rect x="174.8" y="646.8" width="1" height="5.2"/>
<rect x="193" y="646.8" width="1.3" height="5.2"/>
<rect x="259.2" y="667.8" width="1" height="3.5"/>
<rect x="188.5" y="696.9" width="1.3" height="5.6"/>
<rect x="89.3" y="728.6" width="1" height="5.6"/>
<rect x="224.2" y="727.7" width="0.6" height="5.6"/>
<rect x="264.2" y="734.7" width="0.8" height="4.7"/>
<rect x="236.8" y="797.1" width="2.9" height="3.6"/>
<rect x="249.4" y="797.1" width="1.3" height="3.6"/>
</g>
<rect x="48.6" y="573.4" width="228.7" height="228" fill="none" stroke="#000" stroke-width="0.95"/>
<path d="M48.6 801.4v3.5M48.6 801.4h-3.5" stroke="#000" stroke-width="0.95"/>
<text x="48.6" y="817" text-anchor="middle">0</text>
<text x="41.6" y="805.4" text-anchor="end">0</text>
<path d="M93.27 801.4v3.5M48.6 756.87h-3.5" stroke="#000" stroke-width="0.95"/>
<text x="93.27" y="817" text-anchor="middle">100</text>
<text x="41.6" y="760.87" text-anchor="end">100</text>
<path d="M137.94 801.4v3.5M48.6 712.34h-3.5" stroke="#000" stroke-width="0.95"/>
<text x="137.94" y="817" text-anchor="middle">200</text>
<text x="41.6" y="716.34" text-anchor="end">200</text>
<path d="M182.6 801.4v3.5M48.6 667.81h-3.5" stroke="#000" stroke-width="0.95"/>
<text x="182.6" y="817" text-anchor="middle">300</text>
<text x="41.6" y="671.81" text-anchor="end">300</text>
<path d="M227.27 801.4v3.5M48.6 623.27h-3.5" stroke="#000" stroke-width="0.95"/>
<text x="227.27" y="817" text-anchor="middle">400</text>
<text x="41.6" y="627.27" text-anchor="end">400</text>
<path d="M271.94 801.4v3.5M48.6 578.74h-3.5" stroke="#000" stroke-width="0.95"/>
<text x="271.94" y="817" text-anchor="middle">500</text>
<text x="41.6" y="582.74" text-anchor="end">500</text>
<text x="162.95" y="831.4" text-anchor="middle">Time [s]</text>
<text transform="translate(15.2 688) rotate(-90)" text-anchor="middle">Frequency Bins</text>
<rect x="292" y="574.1" width="10.7" height="226.7" fill="url(#vir)" stroke="#000" stroke-width="0.95"/>
<path d="M302.7 800.8h3.5" stroke="#000" stroke-width="0.95"/>
<text x="309.7" y="804.85" font-size="10.3">0.0</text>
<path d="M302.7 755.46h3.5" stroke="#000" stroke-width="0.95"/>
<text x="309.7" y="759.51" font-size="10.3">0.2</text>
<path d="M302.7 710.12h3.5" stroke="#000" stroke-width="0.95"/>
<text x="309.7" y="714.17" font-size="10.3">0.4</text>
<path d="M302.7 664.78h3.5" stroke="#000" stroke-width="0.95"/>
<text x="309.7" y="668.83" font-size="10.3">0.6</text>
<path d="M302.7 619.44h3.5" stroke="#000" stroke-width="0.95"/>
<text x="309.7" y="623.49" font-size="10.3">0.8</text>
<path d="M302.7 574.1h3.5" stroke="#000" stroke-width="0.95"/>
<text x="309.7" y="578.15" font-size="10.3">1.0</text>
</g>
<text class="lab" x="5.8" y="808.2">e</text>
<g class="p" font-size="10.3">
<rect x="405.7" y="573.4" width="229" height="228" fill="#400a5b"/>
<g fill="#ecf03e">
<rect x="406.5" y="584" width="0.9" height="1.1"/>
<rect x="408.4" y="584" width="0.9" height="1.1"/>
<rect x="410.2" y="584" width="0.9" height="1.1"/>
<rect x="411.6" y="584" width="1.1" height="1.1"/>
<rect x="415.4" y="584.4" width="1.2" height="6.3"/>
<rect x="417.2" y="584" width="1.4" height="5.3"/>
<rect x="425.1" y="584.4" width="0.9" height="5.3"/>
<rect x="426.6" y="584.4" width="1.1" height="5.3"/>
<rect x="450.3" y="583.7" width="2.6" height="7"/>
<rect x="454.7" y="584" width="1.1" height="6.1"/>
<rect x="457.8" y="584" width="0.9" height="6.1"/>
<rect x="461.7" y="584" width="1.1" height="6.1"/>
<rect x="463.4" y="584" width="1.1" height="6.1"/>
<rect x="465.2" y="584" width="1.1" height="6.1"/>
<rect x="468.7" y="583.7" width="1.4" height="7"/>
<rect x="470.6" y="583.7" width="1.2" height="7"/>
<rect x="478" y="583.7" width="1.2" height="7"/>
<rect x="479.7" y="584.4" width="2.3" height="1.4"/>
<rect x="484.6" y="584.4" width="1.2" height="3.2"/>
<rect x="488.5" y="583.7" width="2.6" height="7"/>
<rect x="491.4" y="583.7" width="1.8" height="7"/>
<rect x="494.2" y="583.7" width="1.8" height="7"/>
<rect x="498.5" y="584" width="1.1" height="6.1"/>
<rect x="500.2" y="584" width="1.4" height="6.1"/>
<rect x="502.3" y="584" width="1.1" height="6.1"/>
<rect x="504.4" y="584" width="1.1" height="6.1"/>
<rect x="506.5" y="584" width="1.1" height="6.1"/>
<rect x="508.3" y="584" width="1.1" height="6.1"/>
<rect x="510.4" y="584.9" width="1.1" height="4.4"/>
<rect x="512.5" y="586.6" width="0.7" height="2.6"/>
<rect x="514.7" y="584" width="1.8" height="1.1"/>
<rect x="517" y="586.6" width="1.2" height="1.8"/>
<rect x="406.5" y="591.4" width="0.9" height="0.7"/>
<rect x="409.6" y="592.4" width="1.2" height="0.9"/>
<rect x="411.9" y="592.4" width="1.1" height="0.9"/>
<rect x="417.2" y="591" width="3.9" height="1.8"/>
<rect x="423.6" y="591.4" width="0.9" height="1.1"/>
<rect x="435.9" y="591.4" width="1.8" height="1.4"/>
<rect x="439.9" y="590.3" width="5.3" height="1.4"/>
<rect x="443.8" y="591.7" width="1.1" height="1.9"/>
<rect x="449.1" y="590.7" width="0.9" height="3.9"/>
<rect x="450.8" y="591.4" width="1.8" height="0.7"/>
<rect x="454.3" y="592.4" width="3.5" height="0.9"/>
<rect x="457.5" y="590.7" width="13.5" height="1.4" opacity="0.70"/>
<rect x="465.7" y="592.1" width="0.9" height="1.6"/>
<rect x="470.9" y="591" width="6.1" height="0.7" opacity="0.70"/>
<rect x="477.1" y="591.7" width="1.8" height="1.8"/>
<rect x="478.8" y="590.7" width="7.9" height="1.1" opacity="0.70"/>
<rect x="489" y="590.7" width="1.4" height="2.8"/>
<rect x="492" y="590.7" width="1.2" height="2.8"/>
<rect x="494.6" y="591" width="3.5" height="0.7" opacity="0.70"/>
<rect x="503.4" y="591.4" width="5.3" height="0.7" opacity="0.70"/>
<rect x="512.1" y="590.7" width="1.8" height="1.1"/>
<rect x="514.7" y="591" width="5.3" height="0.7" opacity="0.70"/>
<rect x="444.1" y="596.3" width="3.2" height="6.7"/>
<rect x="448.2" y="596.3" width="3" height="6.7"/>
<rect x="454" y="596.3" width="3" height="6.7"/>
<rect x="464.3" y="595.9" width="2.8" height="7.4"/>
<rect x="468.3" y="596.3" width="3.5" height="6.7"/>
<rect x="480.2" y="596.3" width="3.5" height="12.6"/>
<rect x="484.4" y="596.3" width="2.8" height="13.1"/>
<rect x="487.6" y="596.3" width="1.4" height="11.4"/>
<rect x="489" y="596.3" width="0.9" height="7"/>
<rect x="492.8" y="596.3" width="2.1" height="6.7"/>
<rect x="496.4" y="596.3" width="2.6" height="6.7"/>
<rect x="514.7" y="595.9" width="2.6" height="7"/>
<rect x="507.2" y="601.9" width="2.6" height="7"/>
<rect x="517.7" y="601.9" width="2.3" height="7.5"/>
<rect x="464.8" y="614.8" width="2.8" height="7.2"/>
<rect x="471.5" y="615.2" width="1.2" height="6.5"/>
<rect x="473.2" y="615.2" width="2.5" height="6.5"/>
<rect x="491.6" y="614.8" width="1.9" height="6.3"/>
<rect x="427.2" y="633.4" width="3.9" height="6.7"/>
<rect x="521.8" y="584.4" width="0.7" height="1.8"/>
<rect x="526.1" y="584.4" width="1.8" height="6.3"/>
<rect x="528.4" y="584" width="1.4" height="5.3"/>
<rect x="530.5" y="584.9" width="1.1" height="5.8"/>
<rect x="533.7" y="584" width="1.8" height="5.3"/>
<rect x="536.1" y="584.4" width="1.4" height="6.3"/>
<rect x="538.2" y="584.4" width="1.4" height="3.2"/>
<rect x="540.3" y="584" width="2.1" height="2.6"/>
<rect x="547.2" y="583.7" width="4" height="7"/>
<rect x="551.5" y="583.7" width="2.6" height="2.1"/>
<rect x="555" y="587.2" width="2.6" height="1.1"/>
<rect x="555.9" y="583.7" width="5.3" height="1.4"/>
<rect x="558.2" y="585.1" width="1.4" height="5.6"/>
<rect x="560.3" y="585.1" width="1.1" height="5.6"/>
<rect x="562" y="584" width="1.1" height="2.1"/>
<rect x="564.1" y="584" width="1.1" height="2.1"/>
<rect x="565.9" y="584" width="1.1" height="5.3"/>
<rect x="569.4" y="584.9" width="1.4" height="1.8"/>
<rect x="571.9" y="584.9" width="1.1" height="1.8"/>
<rect x="573.6" y="584.9" width="0.7" height="1.8"/>
<rect x="578.2" y="584" width="1.1" height="3.5"/>
<rect x="579.9" y="584" width="0.7" height="2.1"/>
<rect x="581.3" y="584" width="2.6" height="1.4"/>
<rect x="585.2" y="584.4" width="1.4" height="3.2"/>
<rect x="586.9" y="584.4" width="1.1" height="6.3"/>
<rect x="593.9" y="584" width="1.1" height="6.1"/>
<rect x="605.8" y="583.7" width="1.1" height="1.1"/>
<rect x="606.2" y="587.5" width="2.3" height="1.1"/>
<rect x="612.5" y="584.4" width="1.4" height="1.1"/>
<rect x="619" y="584.4" width="1.2" height="5.3"/>
<rect x="620.2" y="587.5" width="1.4" height="1.1"/>
<rect x="623" y="584" width="1.8" height="3.5"/>
<rect x="629.5" y="587.5" width="1.8" height="1.1"/>
<rect x="520" y="592.4" width="2.1" height="1.1"/>
<rect x="524.9" y="592.4" width="1.1" height="1.1"/>
<rect x="526.1" y="591" width="11.4" height="0.7" opacity="0.70"/>
<rect x="536.6" y="592.4" width="1.1" height="1.4"/>
<rect x="538.6" y="592.4" width="1.1" height="1.4"/>
<rect x="542.8" y="591" width="12.3" height="0.9" opacity="0.70"/>
<rect x="552.4" y="589.6" width="1.8" height="2.1"/>
<rect x="564.1" y="590.7" width="1.8" height="6"/>
<rect x="569.9" y="591.4" width="1.2" height="3.2"/>
<rect x="571.7" y="591" width="1.2" height="1.1"/>
<rect x="574" y="591" width="1.1" height="1.1"/>
<rect x="576.1" y="591" width="1.8" height="1.1"/>
<rect x="579.2" y="591" width="1.1" height="4.6"/>
<rect x="580.4" y="591.7" width="1.8" height="1.1"/>
<rect x="582.2" y="591" width="28.9" height="0.9" opacity="0.60"/>
<rect x="596.2" y="592.4" width="0.9" height="1.1"/>
<rect x="599.7" y="592.4" width="0.9" height="1.1"/>
<rect x="603.2" y="592.4" width="0.9" height="1.1"/>
<rect x="607.2" y="592.4" width="1.1" height="1.1"/>
<rect x="612" y="590.7" width="3.2" height="5.3"/>
<rect x="615.5" y="591" width="18.4" height="1.1"/>
<rect x="632.1" y="592.1" width="1.8" height="1.8"/>
<rect x="524.7" y="595.9" width="3.2" height="7.4"/>
<rect x="613.7" y="595.9" width="2.3" height="7.4"/>
<rect x="618.5" y="596.3" width="1.4" height="6.7"/>
<rect x="520" y="602.4" width="1.4" height="6.5"/>
<rect x="577.8" y="601.9" width="3.9" height="7.4"/>
<rect x="583.1" y="601.9" width="3.2" height="7"/>
<rect x="600.2" y="602.6" width="2.5" height="6.3"/>
<rect x="603.6" y="603.3" width="1.4" height="5.6"/>
<rect x="630.9" y="603.3" width="1.6" height="7.9"/>
<rect x="561.5" y="614.1" width="3.3" height="8.1"/>
<rect x="540.1" y="638.8" width="4.4" height="1.2"/>
<rect x="427.2" y="635" width="3.9" height="5.6"/>
<rect x="442.9" y="646.4" width="1.2" height="6.5"/>
<rect x="444.8" y="646.4" width="1.4" height="6.5"/>
<rect x="449.9" y="646.4" width="1.9" height="6.5"/>
<rect x="457.1" y="646" width="3.3" height="6.8"/>
<rect x="422.4" y="664.4" width="3.9" height="7.7"/>
<rect x="453.3" y="664.8" width="2.5" height="7"/>
<rect x="471.8" y="664.8" width="1.8" height="7.4"/>
<rect x="475" y="664.4" width="3.2" height="7.4"/>
<rect x="504.4" y="664.4" width="2.5" height="7.7"/>
<rect x="510.7" y="664.8" width="2.1" height="7.4"/>
<rect x="422.4" y="677.6" width="2.1" height="6.5"/>
<rect x="409.1" y="681.9" width="4.2" height="1.8"/>
<rect x="513.5" y="677.9" width="3.5" height="6.5"/>
<rect x="517.4" y="678.4" width="1.4" height="5.6"/>
<rect x="443.8" y="696" width="2.8" height="7.7"/>
<rect x="485.8" y="696" width="2.1" height="7.4"/>
<rect x="515.3" y="697.2" width="1.4" height="5.3" opacity="0.50"/>
<rect x="539.6" y="638.9" width="5.3" height="1.1" opacity="0.55"/>
<rect x="531.2" y="645.9" width="2.8" height="7"/>
<rect x="549.4" y="645.9" width="3.2" height="7"/>
<rect x="554.7" y="645.9" width="2.3" height="7"/>
<rect x="574.8" y="664.8" width="2.3" height="7.4"/>
<rect x="607.9" y="664.8" width="1.8" height="7.4"/>
<rect x="609.7" y="665.1" width="1.8" height="6.7" opacity="0.50"/>
<rect x="615.6" y="664.8" width="3.5" height="2.1"/>
<rect x="615.6" y="666.9" width="2.8" height="5.3"/>
<rect x="520" y="697.2" width="1.1" height="5.3" opacity="0.50"/>
<rect x="542.1" y="697.2" width="1.9" height="6.5"/>
<rect x="544.9" y="696" width="3.2" height="7.4"/>
<rect x="607.9" y="696.7" width="1.8" height="6.3"/>
<rect x="610.7" y="699.1" width="1.1" height="0.7"/>
<rect x="414.7" y="727.7" width="1.1" height="6.5" opacity="0.45"/>
<rect x="418.9" y="727.7" width="1.1" height="6.5" opacity="0.45"/>
<rect x="420.7" y="727.7" width="1.1" height="6.5" opacity="0.45"/>
<rect x="423.1" y="727.7" width="1.1" height="6.5" opacity="0.45"/>
<rect x="424.9" y="727.7" width="1.4" height="6.5"/>
<rect x="427.7" y="727.7" width="1.4" height="6.5"/>
<rect x="432.4" y="728" width="0.9" height="1.8"/>
<rect x="435.9" y="722.4" width="1.4" height="12.3" opacity="0.85"/>
<rect x="437.8" y="726.3" width="1.4" height="7.9"/>
<rect x="439.9" y="727.7" width="1.4" height="6.5" opacity="0.50"/>
<rect x="441.7" y="727.7" width="1.8" height="6.5" opacity="0.80"/>
<rect x="443.8" y="727.7" width="1.4" height="6.5" opacity="0.80"/>
<rect x="445.5" y="727.7" width="2.8" height="7.4"/>
<rect x="445.9" y="735" width="1.8" height="5.3"/>
<rect x="449.9" y="728" width="1.2" height="6.1" opacity="0.50"/>
<rect x="452.6" y="728" width="1.1" height="6.1" opacity="0.50"/>
<rect x="455.7" y="728" width="1.1" height="6.1" opacity="0.80"/>
<rect x="466.9" y="727.7" width="1.4" height="6.5" opacity="0.50"/>
<rect x="468.7" y="727.7" width="2.1" height="6.5" opacity="0.70"/>
<rect x="471.8" y="721" width="1.4" height="7"/>
<rect x="492.8" y="727.2" width="2.1" height="7"/>
<rect x="496" y="727.7" width="1.4" height="6.5" opacity="0.50"/>
<rect x="497.8" y="727.7" width="1.4" height="6.5"/>
<rect x="500.2" y="727.7" width="1.1" height="6.5" opacity="0.50"/>
<rect x="503.4" y="727.7" width="1.1" height="6.5"/>
<rect x="513" y="727.2" width="1.9" height="7"/>
<rect x="514.2" y="734.2" width="1.4" height="6.5" opacity="0.50"/>
<rect x="521.8" y="721.9" width="1.1" height="11.4" opacity="0.45"/>
<rect x="523.5" y="728.9" width="1.4" height="4.4"/>
<rect x="522.5" y="733.6" width="1.8" height="7"/>
<rect x="530.2" y="733.6" width="1.8" height="6.3" opacity="0.80"/>
<rect x="535.1" y="725.9" width="1.1" height="7.4" opacity="0.50"/>
<rect x="538.2" y="728.9" width="1.1" height="5.3" opacity="0.50"/>
<rect x="538.9" y="733.6" width="1.4" height="6.3" opacity="0.50"/>
<rect x="560.3" y="727.2" width="1.8" height="7"/>
<rect x="569.8" y="727.7" width="1.2" height="6.5" opacity="0.60"/>
<rect x="575.7" y="727.7" width="1.6" height="6.5"/>
<rect x="580.6" y="726.8" width="2.5" height="7.4"/>
<rect x="588" y="727.2" width="1.1" height="7" opacity="0.60"/>
<rect x="620.7" y="733.8" width="2.6" height="6.5"/>
<rect x="624.4" y="733.8" width="1.8" height="6.5"/>
<rect x="630" y="734.2" width="1.1" height="6.1" opacity="0.60"/>
<rect x="631.6" y="733.8" width="1.6" height="6.8"/>
<rect x="593.2" y="796.2" width="4.7" height="5.4"/>
<rect x="599.9" y="796.9" width="1.9" height="4.7"/>
<rect x="605.8" y="796.2" width="3.2" height="5.4"/>
</g>
<rect x="405.7" y="573.4" width="229" height="228" fill="none" stroke="#000" stroke-width="0.95"/>
<path d="M405.7 801.4v3.5M405.7 801.4h-3.5" stroke="#000" stroke-width="0.95"/>
<text x="405.7" y="817" text-anchor="middle">0</text>
<text x="398.7" y="805.4" text-anchor="end">0</text>
<path d="M450.43 801.4v3.5M405.7 756.87h-3.5" stroke="#000" stroke-width="0.95"/>
<text x="450.43" y="817" text-anchor="middle">100</text>
<text x="398.7" y="760.87" text-anchor="end">100</text>
<path d="M495.15 801.4v3.5M405.7 712.34h-3.5" stroke="#000" stroke-width="0.95"/>
<text x="495.15" y="817" text-anchor="middle">200</text>
<text x="398.7" y="716.34" text-anchor="end">200</text>
<path d="M539.88 801.4v3.5M405.7 667.81h-3.5" stroke="#000" stroke-width="0.95"/>
<text x="539.88" y="817" text-anchor="middle">300</text>
<text x="398.7" y="671.81" text-anchor="end">300</text>
<path d="M584.61 801.4v3.5M405.7 623.27h-3.5" stroke="#000" stroke-width="0.95"/>
<text x="584.61" y="817" text-anchor="middle">400</text>
<text x="398.7" y="627.27" text-anchor="end">400</text>
<path d="M629.33 801.4v3.5M405.7 578.74h-3.5" stroke="#000" stroke-width="0.95"/>
<text x="629.33" y="817" text-anchor="middle">500</text>
<text x="398.7" y="582.74" text-anchor="end">500</text>
<text x="520.2" y="831.4" text-anchor="middle">Time [s]</text>
<text transform="translate(372.3 688) rotate(-90)" text-anchor="middle">Frequency Bins</text>
<rect x="648.9" y="574.1" width="11.6" height="226.7" fill="url(#vir)" stroke="#000" stroke-width="0.95"/>
<path d="M660.5 800.8h3.5" stroke="#000" stroke-width="0.95"/>
<text x="667.5" y="804.85" font-size="10.3">0.0</text>
<path d="M660.5 755.46h3.5" stroke="#000" stroke-width="0.95"/>
<text x="667.5" y="759.51" font-size="10.3">0.2</text>
<path d="M660.5 710.12h3.5" stroke="#000" stroke-width="0.95"/>
<text x="667.5" y="714.17" font-size="10.3">0.4</text>
<path d="M660.5 664.78h3.5" stroke="#000" stroke-width="0.95"/>
<text x="667.5" y="668.83" font-size="10.3">0.6</text>
<path d="M660.5 619.44h3.5" stroke="#000" stroke-width="0.95"/>
<text x="667.5" y="623.49" font-size="10.3">0.8</text>
<path d="M660.5 574.1h3.5" stroke="#000" stroke-width="0.95"/>
<text x="667.5" y="578.15" font-size="10.3">1.0</text>
</g>
<rect x="362" y="804" width="41.6" height="12" fill="#fff"/>
<text class="lab" x="370" y="808.2">f</text>
<g class="p" font-size="8.6">
<rect x="222.7" y="848.6" width="239.5" height="238.9" fill="#400a5b"/>
<g fill="#ecf03e">
<rect x="223.5" y="859.7" width="0.9" height="1.1"/>
<rect x="225.6" y="859.7" width="0.9" height="1.1"/>
<rect x="227.4" y="859.7" width="0.9" height="1.1"/>
<rect x="228.8" y="859.7" width="1.1" height="1.1"/>
<rect x="232.9" y="860.1" width="1.3" height="6.6"/>
<rect x="234.7" y="859.7" width="1.5" height="5.5"/>
<rect x="243" y="860.1" width="0.9" height="5.5"/>
<rect x="244.6" y="860.1" width="1.1" height="5.5"/>
<rect x="269.3" y="859.4" width="2.7" height="7.3"/>
<rect x="273.9" y="859.7" width="1.1" height="6.4"/>
<rect x="277.2" y="859.7" width="0.9" height="6.4"/>
<rect x="281.2" y="859.7" width="1.1" height="6.4"/>
<rect x="283.1" y="859.7" width="1.1" height="6.4"/>
<rect x="284.9" y="859.7" width="1.1" height="6.4"/>
<rect x="288.6" y="859.4" width="1.5" height="7.3"/>
<rect x="290.6" y="859.4" width="1.3" height="7.3"/>
<rect x="298.3" y="859.4" width="1.3" height="7.3"/>
<rect x="300.1" y="860.1" width="2.4" height="1.5"/>
<rect x="305.2" y="860.1" width="1.3" height="3.3"/>
<rect x="309.3" y="859.4" width="2.7" height="7.3"/>
<rect x="312.4" y="859.4" width="1.8" height="7.3"/>
<rect x="315.3" y="859.4" width="1.8" height="7.3"/>
<rect x="319.7" y="859.7" width="1.1" height="6.4"/>
<rect x="321.5" y="859.7" width="1.5" height="6.4"/>
<rect x="323.7" y="859.7" width="1.1" height="6.4"/>
<rect x="325.9" y="859.7" width="1.1" height="6.4"/>
<rect x="328.1" y="859.7" width="1.1" height="6.4"/>
<rect x="330" y="859.7" width="1.1" height="6.4"/>
<rect x="332.2" y="860.7" width="1.1" height="4.6"/>
<rect x="334.4" y="862.5" width="0.7" height="2.8"/>
<rect x="336.7" y="859.7" width="1.8" height="1.1"/>
<rect x="339.1" y="862.5" width="1.3" height="1.8"/>
<rect x="223.5" y="867.4" width="0.9" height="0.7"/>
<rect x="226.8" y="868.5" width="1.3" height="0.9"/>
<rect x="229.2" y="868.5" width="1.1" height="0.9"/>
<rect x="234.7" y="867.1" width="4" height="1.8"/>
<rect x="241.5" y="867.4" width="0.9" height="1.1"/>
<rect x="254.3" y="867.4" width="1.8" height="1.5"/>
<rect x="258.5" y="866.3" width="5.5" height="1.5"/>
<rect x="262.6" y="867.8" width="1.1" height="2"/>
<rect x="268.1" y="866.7" width="0.9" height="4"/>
<rect x="269.9" y="867.4" width="1.8" height="0.7"/>
<rect x="273.5" y="868.5" width="3.7" height="0.9"/>
<rect x="276.8" y="866.7" width="14.1" height="1.5" opacity="0.70"/>
<rect x="285.5" y="868.2" width="0.9" height="1.7"/>
<rect x="290.9" y="867.1" width="6.4" height="0.7" opacity="0.70"/>
<rect x="297.4" y="867.8" width="1.8" height="1.8"/>
<rect x="299.2" y="866.7" width="8.2" height="1.1" opacity="0.70"/>
<rect x="309.8" y="866.7" width="1.5" height="2.9"/>
<rect x="312.9" y="866.7" width="1.3" height="2.9"/>
<rect x="315.7" y="867.1" width="3.7" height="0.7" opacity="0.70"/>
<rect x="324.8" y="867.4" width="5.5" height="0.7" opacity="0.70"/>
<rect x="334" y="866.7" width="1.8" height="1.1"/>
<rect x="336.7" y="867.1" width="5.5" height="0.7" opacity="0.70"/>
<rect x="262.9" y="872.6" width="3.3" height="7"/>
<rect x="267.1" y="872.6" width="3.1" height="7"/>
<rect x="273.2" y="872.6" width="3.1" height="7"/>
<rect x="284" y="872.2" width="2.9" height="7.7"/>
<rect x="288.2" y="872.6" width="3.7" height="7"/>
<rect x="300.7" y="872.6" width="3.7" height="13.2"/>
<rect x="305.1" y="872.6" width="2.9" height="13.8"/>
<rect x="308.4" y="872.6" width="1.5" height="11.9"/>
<rect x="309.8" y="872.6" width="0.9" height="7.3"/>
<rect x="313.8" y="872.6" width="2.2" height="7"/>
<rect x="317.5" y="872.6" width="2.7" height="7"/>
<rect x="336.7" y="872.2" width="2.7" height="7.3"/>
<rect x="328.9" y="878.5" width="2.7" height="7.3"/>
<rect x="339.9" y="878.5" width="2.4" height="7.9"/>
<rect x="284.5" y="892" width="2.9" height="7.5"/>
<rect x="291.5" y="892.4" width="1.3" height="6.8"/>
<rect x="293.3" y="892.4" width="2.6" height="6.8"/>
<rect x="312.6" y="892" width="2" height="6.6"/>
<rect x="245.2" y="911.5" width="4" height="7"/>
<rect x="344.1" y="860.1" width="0.7" height="1.8"/>
<rect x="348.7" y="860.1" width="1.8" height="6.6"/>
<rect x="351" y="859.7" width="1.5" height="5.5"/>
<rect x="353.2" y="860.7" width="1.1" height="6.1"/>
<rect x="356.5" y="859.7" width="1.8" height="5.5"/>
<rect x="359.1" y="860.1" width="1.5" height="6.6"/>
<rect x="361.3" y="860.1" width="1.5" height="3.3"/>
<rect x="363.5" y="859.7" width="2.2" height="2.8"/>
<rect x="370.6" y="859.4" width="4.2" height="7.3"/>
<rect x="375.2" y="859.4" width="2.7" height="2.2"/>
<rect x="378.9" y="863" width="2.7" height="1.1"/>
<rect x="379.8" y="859.4" width="5.5" height="1.5"/>
<rect x="382.2" y="860.8" width="1.5" height="5.9"/>
<rect x="384.4" y="860.8" width="1.1" height="5.9"/>
<rect x="386.2" y="859.7" width="1.1" height="2.2"/>
<rect x="388.4" y="859.7" width="1.1" height="2.2"/>
<rect x="390.2" y="859.7" width="1.1" height="5.5"/>
<rect x="393.9" y="860.7" width="1.5" height="1.8"/>
<rect x="396.5" y="860.7" width="1.1" height="1.8"/>
<rect x="398.3" y="860.7" width="0.7" height="1.8"/>
<rect x="403.1" y="859.7" width="1.1" height="3.7"/>
<rect x="404.9" y="859.7" width="0.7" height="2.2"/>
<rect x="406.4" y="859.7" width="2.7" height="1.5"/>
<rect x="410.4" y="860.1" width="1.5" height="3.3"/>
<rect x="412.2" y="860.1" width="1.1" height="6.6"/>
<rect x="419.5" y="859.7" width="1.1" height="6.4"/>
<rect x="432" y="859.4" width="1.1" height="1.1"/>
<rect x="432.4" y="863.4" width="2.4" height="1.1"/>
<rect x="439" y="860.1" width="1.5" height="1.1"/>
<rect x="445.7" y="860.1" width="1.3" height="5.5"/>
<rect x="447" y="863.4" width="1.5" height="1.1"/>
<rect x="450" y="859.7" width="1.8" height="3.7"/>
<rect x="456.7" y="863.4" width="1.8" height="1.1"/>
<rect x="342.2" y="868.5" width="2.2" height="1.1"/>
<rect x="347.4" y="868.5" width="1.1" height="1.1"/>
<rect x="348.7" y="867.1" width="11.9" height="0.7" opacity="0.70"/>
<rect x="359.6" y="868.5" width="1.1" height="1.5"/>
<rect x="361.7" y="868.5" width="1.1" height="1.5"/>
<rect x="366.1" y="867.1" width="12.8" height="0.9" opacity="0.70"/>
<rect x="376.1" y="865.6" width="1.8" height="2.2"/>
<rect x="388.4" y="866.7" width="1.8" height="6.2"/>
<rect x="394.4" y="867.4" width="1.3" height="3.3"/>
<rect x="396.3" y="867.1" width="1.3" height="1.1"/>
<rect x="398.7" y="867.1" width="1.1" height="1.1"/>
<rect x="400.9" y="867.1" width="1.8" height="1.1"/>
<rect x="404.2" y="867.1" width="1.1" height="4.8"/>
<rect x="405.4" y="867.8" width="1.8" height="1.1"/>
<rect x="407.3" y="867.1" width="30.2" height="0.9" opacity="0.60"/>
<rect x="421.9" y="868.5" width="0.9" height="1.1"/>
<rect x="425.6" y="868.5" width="0.9" height="1.1"/>
<rect x="429.3" y="868.5" width="0.9" height="1.1"/>
<rect x="433.5" y="868.5" width="1.1" height="1.1"/>
<rect x="438.4" y="866.7" width="3.3" height="5.5"/>
<rect x="442.1" y="867.1" width="19.2" height="1.1"/>
<rect x="459.5" y="868.2" width="1.8" height="1.8"/>
<rect x="347.2" y="872.2" width="3.3" height="7.7"/>
<rect x="440.2" y="872.2" width="2.4" height="7.7"/>
<rect x="445.2" y="872.6" width="1.5" height="7"/>
<rect x="342.2" y="879" width="1.5" height="6.8"/>
<rect x="402.7" y="878.5" width="4" height="7.7"/>
<rect x="408.2" y="878.5" width="3.3" height="7.3"/>
<rect x="426.1" y="879.2" width="2.6" height="6.6"/>
<rect x="429.6" y="879.9" width="1.5" height="5.9"/>
<rect x="458.2" y="879.9" width="1.6" height="8.3"/>
<rect x="385.7" y="891.3" width="3.5" height="8.4"/>
<rect x="363.3" y="917.2" width="4.6" height="1.3"/>
<rect x="245.2" y="913.2" width="4" height="5.9"/>
<rect x="261.6" y="925.1" width="1.3" height="6.8"/>
<rect x="263.7" y="925.1" width="1.5" height="6.8"/>
<rect x="269" y="925.1" width="2" height="6.8"/>
<rect x="276.5" y="924.7" width="3.5" height="7.2"/>
<rect x="240.2" y="944" width="4" height="8.1"/>
<rect x="272.4" y="944.4" width="2.6" height="7.3"/>
<rect x="291.9" y="944.4" width="1.8" height="7.7"/>
<rect x="295.2" y="944" width="3.3" height="7.7"/>
<rect x="325.9" y="944" width="2.6" height="8.1"/>
<rect x="332.5" y="944.4" width="2.2" height="7.7"/>
<rect x="240.2" y="957.8" width="2.2" height="6.8"/>
<rect x="226.3" y="962.3" width="4.4" height="1.8"/>
<rect x="335.5" y="958.1" width="3.7" height="6.8"/>
<rect x="339.5" y="958.7" width="1.5" height="5.9"/>
<rect x="262.6" y="977" width="2.9" height="8.1"/>
<rect x="306.5" y="977" width="2.2" height="7.7"/>
<rect x="337.3" y="978.3" width="1.5" height="5.5" opacity="0.50"/>
<rect x="362.8" y="917.2" width="5.5" height="1.1" opacity="0.55"/>
<rect x="354" y="924.5" width="2.9" height="7.3"/>
<rect x="373" y="924.5" width="3.3" height="7.3"/>
<rect x="378.5" y="924.5" width="2.4" height="7.3"/>
<rect x="399.6" y="944.4" width="2.4" height="7.7"/>
<rect x="434.2" y="944.4" width="1.8" height="7.7"/>
<rect x="436" y="944.7" width="1.8" height="7" opacity="0.50"/>
<rect x="442.3" y="944.4" width="3.7" height="2.2"/>
<rect x="442.3" y="946.6" width="2.9" height="5.5"/>
<rect x="342.2" y="978.3" width="1.1" height="5.5" opacity="0.50"/>
<rect x="365.3" y="978.3" width="2" height="6.8"/>
<rect x="368.3" y="977" width="3.3" height="7.7"/>
<rect x="434.2" y="977.8" width="1.8" height="6.6"/>
<rect x="437.1" y="980.3" width="1.1" height="0.7"/>
<rect x="232.1" y="1010.2" width="1.1" height="6.8" opacity="0.45"/>
<rect x="236.5" y="1010.2" width="1.1" height="6.8" opacity="0.45"/>
<rect x="238.4" y="1010.2" width="1.1" height="6.8" opacity="0.45"/>
<rect x="240.9" y="1010.2" width="1.1" height="6.8" opacity="0.45"/>
<rect x="242.8" y="1010.2" width="1.5" height="6.8"/>
<rect x="245.7" y="1010.2" width="1.5" height="6.8"/>
<rect x="250.6" y="1010.6" width="0.9" height="1.8"/>
<rect x="254.3" y="1004.7" width="1.5" height="12.8" opacity="0.85"/>
<rect x="256.3" y="1008.8" width="1.5" height="8.3"/>
<rect x="258.5" y="1010.2" width="1.5" height="6.8" opacity="0.50"/>
<rect x="260.4" y="1010.2" width="1.8" height="6.8" opacity="0.80"/>
<rect x="262.6" y="1010.2" width="1.5" height="6.8" opacity="0.80"/>
<rect x="264.4" y="1010.2" width="2.9" height="7.7"/>
<rect x="264.8" y="1018" width="1.8" height="5.5"/>
<rect x="269" y="1010.6" width="1.3" height="6.4" opacity="0.50"/>
<rect x="271.7" y="1010.6" width="1.1" height="6.4" opacity="0.50"/>
<rect x="275" y="1010.6" width="1.1" height="6.4" opacity="0.80"/>
<rect x="286.7" y="1010.2" width="1.5" height="6.8" opacity="0.50"/>
<rect x="288.6" y="1010.2" width="2.2" height="6.8" opacity="0.70"/>
<rect x="291.9" y="1003.3" width="1.5" height="7.3"/>
<rect x="313.8" y="1009.7" width="2.2" height="7.3"/>
<rect x="317.1" y="1010.2" width="1.5" height="6.8" opacity="0.50"/>
<rect x="319" y="1010.2" width="1.5" height="6.8"/>
<rect x="321.5" y="1010.2" width="1.1" height="6.8" opacity="0.50"/>
<rect x="324.8" y="1010.2" width="1.1" height="6.8"/>
<rect x="334.9" y="1009.7" width="2" height="7.3"/>
<rect x="336.2" y="1017" width="1.5" height="6.8" opacity="0.50"/>
<rect x="344.1" y="1004.2" width="1.1" height="11.9" opacity="0.45"/>
<rect x="345.9" y="1011.5" width="1.5" height="4.6"/>
<rect x="344.8" y="1016.5" width="1.8" height="7.3"/>
<rect x="352.9" y="1016.5" width="1.8" height="6.6" opacity="0.80"/>
<rect x="358" y="1008.4" width="1.1" height="7.7" opacity="0.50"/>
<rect x="361.3" y="1011.5" width="1.1" height="5.5" opacity="0.50"/>
<rect x="362" y="1016.5" width="1.5" height="6.6" opacity="0.50"/>
<rect x="384.4" y="1009.7" width="1.8" height="7.3"/>
<rect x="394.3" y="1010.2" width="1.3" height="6.8" opacity="0.60"/>
<rect x="400.5" y="1010.2" width="1.6" height="6.8"/>
<rect x="405.6" y="1009.3" width="2.6" height="7.7"/>
<rect x="413.3" y="1009.7" width="1.1" height="7.3" opacity="0.60"/>
<rect x="447.6" y="1016.7" width="2.7" height="6.8"/>
<rect x="451.4" y="1016.7" width="1.8" height="6.8"/>
<rect x="457.3" y="1017" width="1.1" height="6.4" opacity="0.60"/>
<rect x="458.9" y="1016.7" width="1.6" height="7.2"/>
<rect x="418.8" y="1082.1" width="4.9" height="5.7"/>
<rect x="425.8" y="1082.8" width="2" height="5"/>
<rect x="432" y="1082.1" width="3.3" height="5.7"/>
</g>
<rect x="222.7" y="848.6" width="239.5" height="238.9" fill="none" stroke="#000" stroke-width="0.83"/>
<path d="M222.7 1087.5v3.04M222.7 1087.5h-3.04" stroke="#000" stroke-width="0.83"/>
<text x="222.7" y="1101.07" text-anchor="middle">0</text>
<text x="216.61" y="1090.98" text-anchor="end">0</text>
<path d="M269.48 1087.5v3.04M222.7 1040.84h-3.04" stroke="#000" stroke-width="0.83"/>
<text x="269.48" y="1101.07" text-anchor="middle">100</text>
<text x="216.61" y="1044.32" text-anchor="end">100</text>
<path d="M316.25 1087.5v3.04M222.7 994.18h-3.04" stroke="#000" stroke-width="0.83"/>
<text x="316.25" y="1101.07" text-anchor="middle">200</text>
<text x="216.61" y="997.66" text-anchor="end">200</text>
<path d="M363.03 1087.5v3.04M222.7 947.52h-3.04" stroke="#000" stroke-width="0.83"/>
<text x="363.03" y="1101.07" text-anchor="middle">300</text>
<text x="216.61" y="951" text-anchor="end">300</text>
<path d="M409.81 1087.5v3.04M222.7 900.86h-3.04" stroke="#000" stroke-width="0.83"/>
<text x="409.81" y="1101.07" text-anchor="middle">400</text>
<text x="216.61" y="904.34" text-anchor="end">400</text>
<path d="M456.59 1087.5v3.04M222.7 854.2h-3.04" stroke="#000" stroke-width="0.83"/>
<text x="456.59" y="1101.07" text-anchor="middle">500</text>
<text x="216.61" y="857.68" text-anchor="end">500</text>
<text x="342.45" y="1113" text-anchor="middle">Time [s]</text>
<text transform="translate(193.64 968.65) rotate(-90)" text-anchor="middle">Frequency Bins</text>
<rect x="473.7" y="853.8" width="10.6" height="226" fill="url(#vir)" stroke="#000" stroke-width="0.83"/>
<path d="M484.3 1079.8h3.5" stroke="#000" stroke-width="0.95"/>
<text x="491.3" y="1083.85" font-size="10.3">0.0</text>
<path d="M484.3 1034.6h3.5" stroke="#000" stroke-width="0.95"/>
<text x="491.3" y="1038.65" font-size="10.3">0.2</text>
<path d="M484.3 989.4h3.5" stroke="#000" stroke-width="0.95"/>
<text x="491.3" y="993.45" font-size="10.3">0.4</text>
<path d="M484.3 944.2h3.5" stroke="#000" stroke-width="0.95"/>
<text x="491.3" y="948.25" font-size="10.3">0.6</text>
<path d="M484.3 899h3.5" stroke="#000" stroke-width="0.95"/>
<text x="491.3" y="903.05" font-size="10.3">0.8</text>
<path d="M484.3 853.8h3.5" stroke="#000" stroke-width="0.95"/>
<text x="491.3" y="857.85" font-size="10.3">1.0</text>
</g>
<text class="lab" x="192.5" y="1094.6">g</text>
</svg>
</body></html>
